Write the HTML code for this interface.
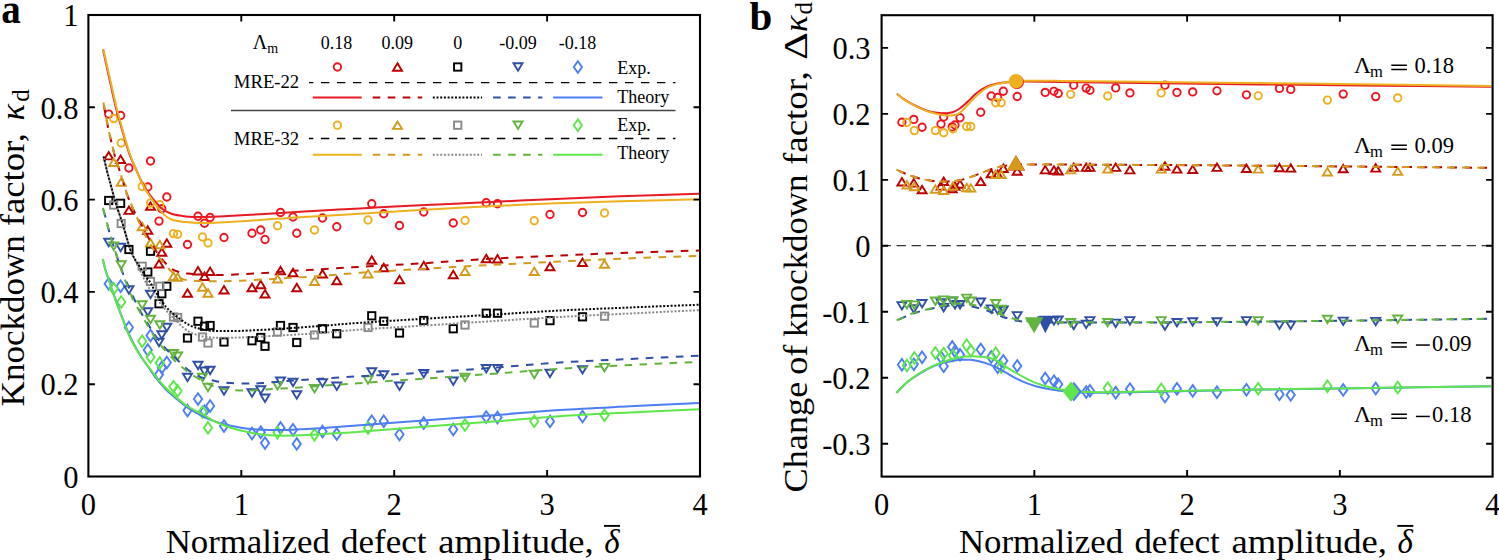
<!DOCTYPE html><html><head><meta charset="utf-8"><title>Knockdown factor</title><style>html,body{margin:0;padding:0;background:#fff;overflow:hidden;width:1499px;height:560px}svg{display:block}</style></head><body>
<svg width="1499" height="560" viewBox="0 0 1499 560" font-family="'Liberation Serif', serif">
<rect width="1499" height="560" fill="#fff"/>
<defs><clipPath id="ca"><rect x="89" y="16" width="610" height="460"/></clipPath><clipPath id="cb"><rect x="882.5" y="16" width="609.5" height="460"/></clipPath></defs>
<g clip-path="url(#ca)">
<circle cx="108.7" cy="114.1" r="3.7" fill="none" stroke="#ee1520" stroke-width="1.9"/>
<polygon points="108.7,152 113.2,159.4 104.2,159.4" fill="none" stroke="#bb0000" stroke-width="1.9" stroke-linejoin="miter"/>
<rect x="105.05" y="196.85" width="7.3" height="7.3" fill="none" stroke="#000000" stroke-width="1.9"/>
<polygon points="108.7,246.2 113.2,238.8 104.2,238.8" fill="none" stroke="#2f4fa6" stroke-width="1.9" stroke-linejoin="miter"/>
<polygon points="108.7,277.95 112.8,283.75 108.7,289.55 104.6,283.75" fill="none" stroke="#4d7ef3" stroke-width="1.9"/>
<circle cx="120.6" cy="115.5" r="3.7" fill="none" stroke="#ee1520" stroke-width="1.9"/>
<polygon points="120.6,155.6 125.1,163 116.1,163" fill="none" stroke="#bb0000" stroke-width="1.9" stroke-linejoin="miter"/>
<rect x="116.95" y="199.65" width="7.3" height="7.3" fill="none" stroke="#000000" stroke-width="1.9"/>
<polygon points="120.6,251.2 125.1,243.8 116.1,243.8" fill="none" stroke="#2f4fa6" stroke-width="1.9" stroke-linejoin="miter"/>
<polygon points="120.6,280.45 124.7,286.25 120.6,292.05 116.5,286.25" fill="none" stroke="#4d7ef3" stroke-width="1.9"/>
<circle cx="128.9" cy="168" r="3.7" fill="none" stroke="#ee1520" stroke-width="1.9"/>
<polygon points="128.9,206.5 133.4,213.9 124.4,213.9" fill="none" stroke="#bb0000" stroke-width="1.9" stroke-linejoin="miter"/>
<rect x="125.25" y="245.85" width="7.3" height="7.3" fill="none" stroke="#000000" stroke-width="1.9"/>
<polygon points="128.9,293.7 133.4,286.3 124.4,286.3" fill="none" stroke="#2f4fa6" stroke-width="1.9" stroke-linejoin="miter"/>
<polygon points="128.9,321.7 133,327.5 128.9,333.3 124.8,327.5" fill="none" stroke="#4d7ef3" stroke-width="1.9"/>
<circle cx="147.8" cy="187" r="3.7" fill="none" stroke="#ee1520" stroke-width="1.9"/>
<polygon points="147.8,226.4 152.3,233.8 143.3,233.8" fill="none" stroke="#bb0000" stroke-width="1.9" stroke-linejoin="miter"/>
<rect x="144.15" y="268.35" width="7.3" height="7.3" fill="none" stroke="#000000" stroke-width="1.9"/>
<polygon points="147.8,315.7 152.3,308.3 143.3,308.3" fill="none" stroke="#2f4fa6" stroke-width="1.9" stroke-linejoin="miter"/>
<polygon points="147.8,344.2 151.9,350 147.8,355.8 143.7,350" fill="none" stroke="#4d7ef3" stroke-width="1.9"/>
<circle cx="150.5" cy="161" r="3.7" fill="none" stroke="#ee1520" stroke-width="1.9"/>
<polygon points="150.5,202.4 155,209.8 146,209.8" fill="none" stroke="#bb0000" stroke-width="1.9" stroke-linejoin="miter"/>
<rect x="146.85" y="247.6" width="7.3" height="7.3" fill="none" stroke="#000000" stroke-width="1.9"/>
<polygon points="150.5,298.2 155,290.8 146,290.8" fill="none" stroke="#2f4fa6" stroke-width="1.9" stroke-linejoin="miter"/>
<polygon points="150.5,329.7 154.6,335.5 150.5,341.3 146.4,335.5" fill="none" stroke="#4d7ef3" stroke-width="1.9"/>
<circle cx="159" cy="221.1" r="3.7" fill="none" stroke="#ee1520" stroke-width="1.9"/>
<polygon points="159,260.05 163.5,267.45 154.5,267.45" fill="none" stroke="#bb0000" stroke-width="1.9" stroke-linejoin="miter"/>
<rect x="155.35" y="300.1" width="7.3" height="7.3" fill="none" stroke="#000000" stroke-width="1.9"/>
<polygon points="159,346.2 163.5,338.8 154.5,338.8" fill="none" stroke="#2f4fa6" stroke-width="1.9" stroke-linejoin="miter"/>
<polygon points="159,368.7 163.1,374.5 159,380.3 154.9,374.5" fill="none" stroke="#4d7ef3" stroke-width="1.9"/>
<circle cx="161.8" cy="208.75" r="3.7" fill="none" stroke="#ee1520" stroke-width="1.9"/>
<polygon points="161.8,248.3 166.3,255.7 157.3,255.7" fill="none" stroke="#bb0000" stroke-width="1.9" stroke-linejoin="miter"/>
<rect x="158.15" y="290.1" width="7.3" height="7.3" fill="none" stroke="#000000" stroke-width="1.9"/>
<polygon points="161.8,338.7 166.3,331.3 157.3,331.3" fill="none" stroke="#2f4fa6" stroke-width="1.9" stroke-linejoin="miter"/>
<polygon points="161.8,361.7 165.9,367.5 161.8,373.3 157.7,367.5" fill="none" stroke="#4d7ef3" stroke-width="1.9"/>
<circle cx="166.8" cy="197" r="3.7" fill="none" stroke="#ee1520" stroke-width="1.9"/>
<polygon points="166.8,239.3 171.3,246.7 162.3,246.7" fill="none" stroke="#bb0000" stroke-width="1.9" stroke-linejoin="miter"/>
<rect x="163.15" y="282.6" width="7.3" height="7.3" fill="none" stroke="#000000" stroke-width="1.9"/>
<polygon points="166.8,331.2 171.3,323.8 162.3,323.8" fill="none" stroke="#2f4fa6" stroke-width="1.9" stroke-linejoin="miter"/>
<polygon points="166.8,356.7 170.9,362.5 166.8,368.3 162.7,362.5" fill="none" stroke="#4d7ef3" stroke-width="1.9"/>
<circle cx="187.5" cy="244.5" r="3.7" fill="none" stroke="#ee1520" stroke-width="1.9"/>
<polygon points="187.5,289.3 192,296.7 183,296.7" fill="none" stroke="#bb0000" stroke-width="1.9" stroke-linejoin="miter"/>
<rect x="183.85" y="334.35" width="7.3" height="7.3" fill="none" stroke="#000000" stroke-width="1.9"/>
<polygon points="187.5,381.2 192,373.8 183,373.8" fill="none" stroke="#2f4fa6" stroke-width="1.9" stroke-linejoin="miter"/>
<polygon points="187.5,404.7 191.6,410.5 187.5,416.3 183.4,410.5" fill="none" stroke="#4d7ef3" stroke-width="1.9"/>
<circle cx="198" cy="216.25" r="3.7" fill="none" stroke="#ee1520" stroke-width="1.9"/>
<polygon points="198,267.05 202.5,274.45 193.5,274.45" fill="none" stroke="#bb0000" stroke-width="1.9" stroke-linejoin="miter"/>
<rect x="194.35" y="317.6" width="7.3" height="7.3" fill="none" stroke="#000000" stroke-width="1.9"/>
<polygon points="198,369.2 202.5,361.8 193.5,361.8" fill="none" stroke="#2f4fa6" stroke-width="1.9" stroke-linejoin="miter"/>
<polygon points="198,393.2 202.1,399 198,404.8 193.9,399" fill="none" stroke="#4d7ef3" stroke-width="1.9"/>
<circle cx="204.5" cy="223.25" r="3.7" fill="none" stroke="#ee1520" stroke-width="1.9"/>
<polygon points="204.5,272.55 209,279.95 200,279.95" fill="none" stroke="#bb0000" stroke-width="1.9" stroke-linejoin="miter"/>
<rect x="200.85" y="322.6" width="7.3" height="7.3" fill="none" stroke="#000000" stroke-width="1.9"/>
<polygon points="204.5,374.95 209,367.55 200,367.55" fill="none" stroke="#2f4fa6" stroke-width="1.9" stroke-linejoin="miter"/>
<polygon points="204.5,405.45 208.6,411.25 204.5,417.05 200.4,411.25" fill="none" stroke="#4d7ef3" stroke-width="1.9"/>
<circle cx="210.1" cy="217.5" r="3.7" fill="none" stroke="#ee1520" stroke-width="1.9"/>
<polygon points="210.1,267.55 214.6,274.95 205.6,274.95" fill="none" stroke="#bb0000" stroke-width="1.9" stroke-linejoin="miter"/>
<rect x="206.45" y="321.85" width="7.3" height="7.3" fill="none" stroke="#000000" stroke-width="1.9"/>
<polygon points="210.1,374.2 214.6,366.8 205.6,366.8" fill="none" stroke="#2f4fa6" stroke-width="1.9" stroke-linejoin="miter"/>
<polygon points="210.1,400.2 214.2,406 210.1,411.8 206,406" fill="none" stroke="#4d7ef3" stroke-width="1.9"/>
<circle cx="224" cy="237.5" r="3.7" fill="none" stroke="#ee1520" stroke-width="1.9"/>
<polygon points="224,286.05 228.5,293.45 219.5,293.45" fill="none" stroke="#bb0000" stroke-width="1.9" stroke-linejoin="miter"/>
<rect x="220.35" y="338.35" width="7.3" height="7.3" fill="none" stroke="#000000" stroke-width="1.9"/>
<polygon points="224,394.7 228.5,387.3 219.5,387.3" fill="none" stroke="#2f4fa6" stroke-width="1.9" stroke-linejoin="miter"/>
<polygon points="224,420.2 228.1,426 224,431.8 219.9,426" fill="none" stroke="#4d7ef3" stroke-width="1.9"/>
<circle cx="252" cy="233.25" r="3.7" fill="none" stroke="#ee1520" stroke-width="1.9"/>
<polygon points="252,283.8 256.5,291.2 247.5,291.2" fill="none" stroke="#bb0000" stroke-width="1.9" stroke-linejoin="miter"/>
<rect x="248.35" y="337.1" width="7.3" height="7.3" fill="none" stroke="#000000" stroke-width="1.9"/>
<polygon points="252,396.7 256.5,389.3 247.5,389.3" fill="none" stroke="#2f4fa6" stroke-width="1.9" stroke-linejoin="miter"/>
<polygon points="252,427.7 256.1,433.5 252,439.3 247.9,433.5" fill="none" stroke="#4d7ef3" stroke-width="1.9"/>
<circle cx="260.75" cy="230" r="3.7" fill="none" stroke="#ee1520" stroke-width="1.9"/>
<polygon points="260.75,280.8 265.25,288.2 256.25,288.2" fill="none" stroke="#bb0000" stroke-width="1.9" stroke-linejoin="miter"/>
<rect x="257.1" y="333.85" width="7.3" height="7.3" fill="none" stroke="#000000" stroke-width="1.9"/>
<polygon points="260.75,393.7 265.25,386.3 256.25,386.3" fill="none" stroke="#2f4fa6" stroke-width="1.9" stroke-linejoin="miter"/>
<polygon points="260.75,426.4 264.85,432.2 260.75,438 256.65,432.2" fill="none" stroke="#4d7ef3" stroke-width="1.9"/>
<circle cx="265" cy="239.5" r="3.7" fill="none" stroke="#ee1520" stroke-width="1.9"/>
<polygon points="265,290.05 269.5,297.45 260.5,297.45" fill="none" stroke="#bb0000" stroke-width="1.9" stroke-linejoin="miter"/>
<rect x="261.35" y="342.6" width="7.3" height="7.3" fill="none" stroke="#000000" stroke-width="1.9"/>
<polygon points="265,401.95 269.5,394.55 260.5,394.55" fill="none" stroke="#2f4fa6" stroke-width="1.9" stroke-linejoin="miter"/>
<polygon points="265,437.3 269.1,443.1 265,448.9 260.9,443.1" fill="none" stroke="#4d7ef3" stroke-width="1.9"/>
<circle cx="280.5" cy="212.5" r="3.7" fill="none" stroke="#ee1520" stroke-width="1.9"/>
<polygon points="280.5,266.8 285,274.2 276,274.2" fill="none" stroke="#bb0000" stroke-width="1.9" stroke-linejoin="miter"/>
<rect x="276.85" y="321.85" width="7.3" height="7.3" fill="none" stroke="#000000" stroke-width="1.9"/>
<polygon points="280.5,384.95 285,377.55 276,377.55" fill="none" stroke="#2f4fa6" stroke-width="1.9" stroke-linejoin="miter"/>
<polygon points="280.5,422.1 284.6,427.9 280.5,433.7 276.4,427.9" fill="none" stroke="#4d7ef3" stroke-width="1.9"/>
<circle cx="293" cy="217" r="3.7" fill="none" stroke="#ee1520" stroke-width="1.9"/>
<polygon points="293,268.8 297.5,276.2 288.5,276.2" fill="none" stroke="#bb0000" stroke-width="1.9" stroke-linejoin="miter"/>
<rect x="289.35" y="323.85" width="7.3" height="7.3" fill="none" stroke="#000000" stroke-width="1.9"/>
<polygon points="293,386.2 297.5,378.8 288.5,378.8" fill="none" stroke="#2f4fa6" stroke-width="1.9" stroke-linejoin="miter"/>
<polygon points="293,424 297.1,429.8 293,435.6 288.9,429.8" fill="none" stroke="#4d7ef3" stroke-width="1.9"/>
<circle cx="296.75" cy="233.25" r="3.7" fill="none" stroke="#ee1520" stroke-width="1.9"/>
<polygon points="296.75,283.8 301.25,291.2 292.25,291.2" fill="none" stroke="#bb0000" stroke-width="1.9" stroke-linejoin="miter"/>
<rect x="293.1" y="338.85" width="7.3" height="7.3" fill="none" stroke="#000000" stroke-width="1.9"/>
<polygon points="296.75,398.7 301.25,391.3 292.25,391.3" fill="none" stroke="#2f4fa6" stroke-width="1.9" stroke-linejoin="miter"/>
<polygon points="296.75,438.1 300.85,443.9 296.75,449.7 292.65,443.9" fill="none" stroke="#4d7ef3" stroke-width="1.9"/>
<circle cx="322.5" cy="218" r="3.7" fill="none" stroke="#ee1520" stroke-width="1.9"/>
<polygon points="322.5,270.05 327,277.45 318,277.45" fill="none" stroke="#bb0000" stroke-width="1.9" stroke-linejoin="miter"/>
<rect x="318.85" y="325.1" width="7.3" height="7.3" fill="none" stroke="#000000" stroke-width="1.9"/>
<polygon points="322.5,386.7 327,379.3 318,379.3" fill="none" stroke="#2f4fa6" stroke-width="1.9" stroke-linejoin="miter"/>
<polygon points="322.5,425.7 326.6,431.5 322.5,437.3 318.4,431.5" fill="none" stroke="#4d7ef3" stroke-width="1.9"/>
<circle cx="336.75" cy="226.75" r="3.7" fill="none" stroke="#ee1520" stroke-width="1.9"/>
<polygon points="336.75,276.8 341.25,284.2 332.25,284.2" fill="none" stroke="#bb0000" stroke-width="1.9" stroke-linejoin="miter"/>
<rect x="333.1" y="330.1" width="7.3" height="7.3" fill="none" stroke="#000000" stroke-width="1.9"/>
<polygon points="336.75,389.95 341.25,382.55 332.25,382.55" fill="none" stroke="#2f4fa6" stroke-width="1.9" stroke-linejoin="miter"/>
<polygon points="336.75,428.2 340.85,434 336.75,439.8 332.65,434" fill="none" stroke="#4d7ef3" stroke-width="1.9"/>
<circle cx="371.75" cy="203.75" r="3.7" fill="none" stroke="#ee1520" stroke-width="1.9"/>
<polygon points="371.75,256.3 376.25,263.7 367.25,263.7" fill="none" stroke="#bb0000" stroke-width="1.9" stroke-linejoin="miter"/>
<rect x="368.1" y="312.15" width="7.3" height="7.3" fill="none" stroke="#000000" stroke-width="1.9"/>
<polygon points="371.75,375.7 376.25,368.3 367.25,368.3" fill="none" stroke="#2f4fa6" stroke-width="1.9" stroke-linejoin="miter"/>
<polygon points="371.75,415.45 375.85,421.25 371.75,427.05 367.65,421.25" fill="none" stroke="#4d7ef3" stroke-width="1.9"/>
<circle cx="383.75" cy="213.75" r="3.7" fill="none" stroke="#ee1520" stroke-width="1.9"/>
<polygon points="383.75,263.8 388.25,271.2 379.25,271.2" fill="none" stroke="#bb0000" stroke-width="1.9" stroke-linejoin="miter"/>
<rect x="380.1" y="317.6" width="7.3" height="7.3" fill="none" stroke="#000000" stroke-width="1.9"/>
<polygon points="383.75,378.7 388.25,371.3 379.25,371.3" fill="none" stroke="#2f4fa6" stroke-width="1.9" stroke-linejoin="miter"/>
<polygon points="383.75,415.45 387.85,421.25 383.75,427.05 379.65,421.25" fill="none" stroke="#4d7ef3" stroke-width="1.9"/>
<circle cx="399.5" cy="225.5" r="3.7" fill="none" stroke="#ee1520" stroke-width="1.9"/>
<polygon points="399.5,275.8 404,283.2 395,283.2" fill="none" stroke="#bb0000" stroke-width="1.9" stroke-linejoin="miter"/>
<rect x="395.85" y="329.35" width="7.3" height="7.3" fill="none" stroke="#000000" stroke-width="1.9"/>
<polygon points="399.5,389.95 404,382.55 395,382.55" fill="none" stroke="#2f4fa6" stroke-width="1.9" stroke-linejoin="miter"/>
<polygon points="399.5,428.7 403.6,434.5 399.5,440.3 395.4,434.5" fill="none" stroke="#4d7ef3" stroke-width="1.9"/>
<circle cx="423.75" cy="212" r="3.7" fill="none" stroke="#ee1520" stroke-width="1.9"/>
<polygon points="423.75,261.8 428.25,269.2 419.25,269.2" fill="none" stroke="#bb0000" stroke-width="1.9" stroke-linejoin="miter"/>
<rect x="420.1" y="316.85" width="7.3" height="7.3" fill="none" stroke="#000000" stroke-width="1.9"/>
<polygon points="423.75,377.45 428.25,370.05 419.25,370.05" fill="none" stroke="#2f4fa6" stroke-width="1.9" stroke-linejoin="miter"/>
<polygon points="423.75,417.2 427.85,423 423.75,428.8 419.65,423" fill="none" stroke="#4d7ef3" stroke-width="1.9"/>
<circle cx="453.25" cy="223" r="3.7" fill="none" stroke="#ee1520" stroke-width="1.9"/>
<polygon points="453.25,270.8 457.75,278.2 448.75,278.2" fill="none" stroke="#bb0000" stroke-width="1.9" stroke-linejoin="miter"/>
<rect x="449.6" y="325.1" width="7.3" height="7.3" fill="none" stroke="#000000" stroke-width="1.9"/>
<polygon points="453.25,384.95 457.75,377.55 448.75,377.55" fill="none" stroke="#2f4fa6" stroke-width="1.9" stroke-linejoin="miter"/>
<polygon points="453.25,423.7 457.35,429.5 453.25,435.3 449.15,429.5" fill="none" stroke="#4d7ef3" stroke-width="1.9"/>
<circle cx="486.25" cy="202.75" r="3.7" fill="none" stroke="#ee1520" stroke-width="1.9"/>
<polygon points="486.25,254.8 490.75,262.2 481.75,262.2" fill="none" stroke="#bb0000" stroke-width="1.9" stroke-linejoin="miter"/>
<rect x="482.6" y="309.55" width="7.3" height="7.3" fill="none" stroke="#000000" stroke-width="1.9"/>
<polygon points="486.25,372.45 490.75,365.05 481.75,365.05" fill="none" stroke="#2f4fa6" stroke-width="1.9" stroke-linejoin="miter"/>
<polygon points="486.25,411.2 490.35,417 486.25,422.8 482.15,417" fill="none" stroke="#4d7ef3" stroke-width="1.9"/>
<circle cx="497.5" cy="203.75" r="3.7" fill="none" stroke="#ee1520" stroke-width="1.9"/>
<polygon points="497.5,255.05 502,262.45 493,262.45" fill="none" stroke="#bb0000" stroke-width="1.9" stroke-linejoin="miter"/>
<rect x="493.85" y="309.55" width="7.3" height="7.3" fill="none" stroke="#000000" stroke-width="1.9"/>
<polygon points="497.5,372.45 502,365.05 493,365.05" fill="none" stroke="#2f4fa6" stroke-width="1.9" stroke-linejoin="miter"/>
<polygon points="497.5,411.7 501.6,417.5 497.5,423.3 493.4,417.5" fill="none" stroke="#4d7ef3" stroke-width="1.9"/>
<circle cx="550" cy="214.5" r="3.7" fill="none" stroke="#ee1520" stroke-width="1.9"/>
<polygon points="550,262.9 554.5,270.3 545.5,270.3" fill="none" stroke="#bb0000" stroke-width="1.9" stroke-linejoin="miter"/>
<rect x="546.35" y="316.95" width="7.3" height="7.3" fill="none" stroke="#000000" stroke-width="1.9"/>
<polygon points="550,377.1 554.5,369.7 545.5,369.7" fill="none" stroke="#2f4fa6" stroke-width="1.9" stroke-linejoin="miter"/>
<polygon points="550,415.6 554.1,421.4 550,427.2 545.9,421.4" fill="none" stroke="#4d7ef3" stroke-width="1.9"/>
<circle cx="582.5" cy="212.5" r="3.7" fill="none" stroke="#ee1520" stroke-width="1.9"/>
<polygon points="582.5,258.6 587,266 578,266" fill="none" stroke="#bb0000" stroke-width="1.9" stroke-linejoin="miter"/>
<rect x="578.85" y="313.15" width="7.3" height="7.3" fill="none" stroke="#000000" stroke-width="1.9"/>
<polygon points="582.5,373.5 587,366.1 578,366.1" fill="none" stroke="#2f4fa6" stroke-width="1.9" stroke-linejoin="miter"/>
<polygon points="582.5,410.8 586.6,416.6 582.5,422.4 578.4,416.6" fill="none" stroke="#4d7ef3" stroke-width="1.9"/>
<circle cx="113.7" cy="118.6" r="3.7" fill="none" stroke="#edb120" stroke-width="1.9"/>
<polygon points="113.7,158.6 118.2,166 109.2,166" fill="none" stroke="#d39a1c" stroke-width="1.9" stroke-linejoin="miter"/>
<rect x="110.05" y="201.35" width="7.3" height="7.3" fill="none" stroke="#8a8a8a" stroke-width="1.9"/>
<polygon points="113.7,249.95 118.2,242.55 109.2,242.55" fill="none" stroke="#62b43e" stroke-width="1.9" stroke-linejoin="miter"/>
<polygon points="113.7,282.95 117.8,288.75 113.7,294.55 109.6,288.75" fill="none" stroke="#5ee64a" stroke-width="1.9"/>
<circle cx="121.2" cy="143" r="3.7" fill="none" stroke="#edb120" stroke-width="1.9"/>
<polygon points="121.2,178.3 125.7,185.7 116.7,185.7" fill="none" stroke="#d39a1c" stroke-width="1.9" stroke-linejoin="miter"/>
<rect x="117.55" y="219.85" width="7.3" height="7.3" fill="none" stroke="#8a8a8a" stroke-width="1.9"/>
<polygon points="121.2,268.7 125.7,261.3 116.7,261.3" fill="none" stroke="#62b43e" stroke-width="1.9" stroke-linejoin="miter"/>
<polygon points="121.2,296.2 125.3,302 121.2,307.8 117.1,302" fill="none" stroke="#5ee64a" stroke-width="1.9"/>
<circle cx="142.2" cy="186.5" r="3.7" fill="none" stroke="#edb120" stroke-width="1.9"/>
<polygon points="142.2,222.8 146.7,230.2 137.7,230.2" fill="none" stroke="#d39a1c" stroke-width="1.9" stroke-linejoin="miter"/>
<rect x="138.55" y="262.6" width="7.3" height="7.3" fill="none" stroke="#8a8a8a" stroke-width="1.9"/>
<polygon points="142.2,308.7 146.7,301.3 137.7,301.3" fill="none" stroke="#62b43e" stroke-width="1.9" stroke-linejoin="miter"/>
<polygon points="142.2,335.45 146.3,341.25 142.2,347.05 138.1,341.25" fill="none" stroke="#5ee64a" stroke-width="1.9"/>
<circle cx="150.5" cy="203.1" r="3.7" fill="none" stroke="#edb120" stroke-width="1.9"/>
<polygon points="150.5,239 155,246.4 146,246.4" fill="none" stroke="#d39a1c" stroke-width="1.9" stroke-linejoin="miter"/>
<rect x="146.85" y="277.85" width="7.3" height="7.3" fill="none" stroke="#8a8a8a" stroke-width="1.9"/>
<polygon points="150.5,323.2 155,315.8 146,315.8" fill="none" stroke="#62b43e" stroke-width="1.9" stroke-linejoin="miter"/>
<polygon points="150.5,351.2 154.6,357 150.5,362.8 146.4,357" fill="none" stroke="#5ee64a" stroke-width="1.9"/>
<circle cx="159.8" cy="204.7" r="3.7" fill="none" stroke="#edb120" stroke-width="1.9"/>
<polygon points="159.8,240.8 164.3,248.2 155.3,248.2" fill="none" stroke="#d39a1c" stroke-width="1.9" stroke-linejoin="miter"/>
<rect x="156.15" y="282.6" width="7.3" height="7.3" fill="none" stroke="#8a8a8a" stroke-width="1.9"/>
<polygon points="159.8,328.7 164.3,321.3 155.3,321.3" fill="none" stroke="#62b43e" stroke-width="1.9" stroke-linejoin="miter"/>
<polygon points="159.8,357.2 163.9,363 159.8,368.8 155.7,363" fill="none" stroke="#5ee64a" stroke-width="1.9"/>
<circle cx="173.5" cy="233.6" r="3.7" fill="none" stroke="#edb120" stroke-width="1.9"/>
<polygon points="173.5,272.55 178,279.95 169,279.95" fill="none" stroke="#d39a1c" stroke-width="1.9" stroke-linejoin="miter"/>
<rect x="169.85" y="313.35" width="7.3" height="7.3" fill="none" stroke="#8a8a8a" stroke-width="1.9"/>
<polygon points="173.5,357.45 178,350.05 169,350.05" fill="none" stroke="#62b43e" stroke-width="1.9" stroke-linejoin="miter"/>
<polygon points="173.5,380.8 177.6,386.6 173.5,392.4 169.4,386.6" fill="none" stroke="#5ee64a" stroke-width="1.9"/>
<circle cx="177.6" cy="234.3" r="3.7" fill="none" stroke="#edb120" stroke-width="1.9"/>
<polygon points="177.6,273.3 182.1,280.7 173.1,280.7" fill="none" stroke="#d39a1c" stroke-width="1.9" stroke-linejoin="miter"/>
<rect x="173.95" y="313.85" width="7.3" height="7.3" fill="none" stroke="#8a8a8a" stroke-width="1.9"/>
<polygon points="177.6,359.95 182.1,352.55 173.1,352.55" fill="none" stroke="#62b43e" stroke-width="1.9" stroke-linejoin="miter"/>
<polygon points="177.6,385 181.7,390.8 177.6,396.6 173.5,390.8" fill="none" stroke="#5ee64a" stroke-width="1.9"/>
<circle cx="202.5" cy="237" r="3.7" fill="none" stroke="#edb120" stroke-width="1.9"/>
<polygon points="202.5,283.3 207,290.7 198,290.7" fill="none" stroke="#d39a1c" stroke-width="1.9" stroke-linejoin="miter"/>
<rect x="198.85" y="333.35" width="7.3" height="7.3" fill="none" stroke="#8a8a8a" stroke-width="1.9"/>
<polygon points="202.5,381.2 207,373.8 198,373.8" fill="none" stroke="#62b43e" stroke-width="1.9" stroke-linejoin="miter"/>
<polygon points="202.5,406.3 206.6,412.1 202.5,417.9 198.4,412.1" fill="none" stroke="#5ee64a" stroke-width="1.9"/>
<circle cx="208" cy="243" r="3.7" fill="none" stroke="#edb120" stroke-width="1.9"/>
<polygon points="208,289.3 212.5,296.7 203.5,296.7" fill="none" stroke="#d39a1c" stroke-width="1.9" stroke-linejoin="miter"/>
<rect x="204.35" y="339.35" width="7.3" height="7.3" fill="none" stroke="#8a8a8a" stroke-width="1.9"/>
<polygon points="208,391.2 212.5,383.8 203.5,383.8" fill="none" stroke="#62b43e" stroke-width="1.9" stroke-linejoin="miter"/>
<polygon points="208,422 212.1,427.8 208,433.6 203.9,427.8" fill="none" stroke="#5ee64a" stroke-width="1.9"/>
<circle cx="277.5" cy="225.75" r="3.7" fill="none" stroke="#edb120" stroke-width="1.9"/>
<polygon points="277.5,275.05 282,282.45 273,282.45" fill="none" stroke="#d39a1c" stroke-width="1.9" stroke-linejoin="miter"/>
<rect x="273.85" y="328.35" width="7.3" height="7.3" fill="none" stroke="#8a8a8a" stroke-width="1.9"/>
<polygon points="277.5,389.45 282,382.05 273,382.05" fill="none" stroke="#62b43e" stroke-width="1.9" stroke-linejoin="miter"/>
<polygon points="277.5,426.8 281.6,432.6 277.5,438.4 273.4,432.6" fill="none" stroke="#5ee64a" stroke-width="1.9"/>
<circle cx="314.5" cy="230" r="3.7" fill="none" stroke="#edb120" stroke-width="1.9"/>
<polygon points="314.5,277.55 319,284.95 310,284.95" fill="none" stroke="#d39a1c" stroke-width="1.9" stroke-linejoin="miter"/>
<rect x="310.85" y="331.35" width="7.3" height="7.3" fill="none" stroke="#8a8a8a" stroke-width="1.9"/>
<polygon points="314.5,392.45 319,385.05 310,385.05" fill="none" stroke="#62b43e" stroke-width="1.9" stroke-linejoin="miter"/>
<polygon points="314.5,428.9 318.6,434.7 314.5,440.5 310.4,434.7" fill="none" stroke="#5ee64a" stroke-width="1.9"/>
<circle cx="368" cy="220" r="3.7" fill="none" stroke="#edb120" stroke-width="1.9"/>
<polygon points="368,270.05 372.5,277.45 363.5,277.45" fill="none" stroke="#d39a1c" stroke-width="1.9" stroke-linejoin="miter"/>
<rect x="364.35" y="323.85" width="7.3" height="7.3" fill="none" stroke="#8a8a8a" stroke-width="1.9"/>
<polygon points="368,383.7 372.5,376.3 363.5,376.3" fill="none" stroke="#62b43e" stroke-width="1.9" stroke-linejoin="miter"/>
<polygon points="368,422.2 372.1,428 368,433.8 363.9,428" fill="none" stroke="#5ee64a" stroke-width="1.9"/>
<circle cx="465" cy="220.5" r="3.7" fill="none" stroke="#edb120" stroke-width="1.9"/>
<polygon points="465,267.55 469.5,274.95 460.5,274.95" fill="none" stroke="#d39a1c" stroke-width="1.9" stroke-linejoin="miter"/>
<rect x="461.35" y="321.35" width="7.3" height="7.3" fill="none" stroke="#8a8a8a" stroke-width="1.9"/>
<polygon points="465,381.2 469.5,373.8 460.5,373.8" fill="none" stroke="#62b43e" stroke-width="1.9" stroke-linejoin="miter"/>
<polygon points="465,419.2 469.1,425 465,430.8 460.9,425" fill="none" stroke="#5ee64a" stroke-width="1.9"/>
<circle cx="534.25" cy="220.75" r="3.7" fill="none" stroke="#edb120" stroke-width="1.9"/>
<polygon points="534.25,267.55 538.75,274.95 529.75,274.95" fill="none" stroke="#d39a1c" stroke-width="1.9" stroke-linejoin="miter"/>
<rect x="530.6" y="319.35" width="7.3" height="7.3" fill="none" stroke="#8a8a8a" stroke-width="1.9"/>
<polygon points="534.25,378.2 538.75,370.8 529.75,370.8" fill="none" stroke="#62b43e" stroke-width="1.9" stroke-linejoin="miter"/>
<polygon points="534.25,415.45 538.35,421.25 534.25,427.05 530.15,421.25" fill="none" stroke="#5ee64a" stroke-width="1.9"/>
<circle cx="604.5" cy="213" r="3.7" fill="none" stroke="#edb120" stroke-width="1.9"/>
<polygon points="604.5,260.3 609,267.7 600,267.7" fill="none" stroke="#d39a1c" stroke-width="1.9" stroke-linejoin="miter"/>
<rect x="600.85" y="312.55" width="7.3" height="7.3" fill="none" stroke="#8a8a8a" stroke-width="1.9"/>
<polygon points="604.5,371.3 609,363.9 600,363.9" fill="none" stroke="#62b43e" stroke-width="1.9" stroke-linejoin="miter"/>
<polygon points="604.5,409.5 608.6,415.3 604.5,421.1 600.4,415.3" fill="none" stroke="#5ee64a" stroke-width="1.9"/>
<path d="M103.6,156.4 C104.17,158.83 105.78,166.17 107,171 C108.22,175.83 109.45,180.07 110.9,185.4 C112.35,190.73 113.83,196.85 115.7,203 C117.57,209.15 120.23,216.4 122.1,222.3 C123.97,228.2 125.52,233.78 126.9,238.4 C128.28,243.02 129.05,246.4 130.4,250 C131.75,253.6 133.4,256.58 135,260 C136.6,263.42 138.1,266.57 140,270.5 C141.9,274.43 144.4,279.93 146.4,283.6 C148.4,287.27 149.9,289.52 152,292.5 C154.1,295.48 156.5,298.33 159,301.5 C161.5,304.67 164.33,308.5 167,311.5 C169.67,314.5 172.5,317 175,319.5 C177.5,322 179.62,324.45 182,326.5 C184.38,328.55 186.63,330.33 189.3,331.8 C191.97,333.27 195.03,334.42 198,335.3 C200.97,336.18 203.43,336.68 207.1,337.1 C210.77,337.52 214.52,337.73 220,337.8 C225.48,337.87 230,337.88 240,337.5 C250,337.12 266.67,336.25 280,335.5 C293.33,334.75 306.67,333.98 320,333 C333.33,332.02 343.33,330.8 360,329.6 C376.67,328.4 398.33,327.18 420,325.8 C441.67,324.42 466.67,322.77 490,321.3 C513.33,319.83 536.67,318.3 560,317 C583.33,315.7 606.67,314.65 630,313.5 C653.33,312.35 688.33,310.67 700,310.1" fill="none" stroke="#8a8a8a" stroke-width="2.0" stroke-dasharray="2 1.7" stroke-dashoffset="1.8"/>
<path d="M103.6,156.4 C104.17,158.83 105.78,166.17 107,171 C108.22,175.83 109.45,180.07 110.9,185.4 C112.35,190.73 113.83,196.85 115.7,203 C117.57,209.15 120.23,216.4 122.1,222.3 C123.97,228.2 125.52,233.78 126.9,238.4 C128.28,243.02 129.05,246.48 130.4,250 C131.75,253.52 133.52,256.83 135,259.5 C136.48,262.17 137.63,263.33 139.3,266 C140.97,268.67 143.22,272.82 145,275.5 C146.78,278.18 148.57,279.93 150,282.1 C151.43,284.27 152.12,286.02 153.6,288.5 C155.08,290.98 156.83,293.95 158.9,297 C160.97,300.05 163.65,304 166,306.8 C168.35,309.6 170.6,311.72 173,313.8 C175.4,315.88 178.07,317.63 180.4,319.3 C182.73,320.97 184.63,322.47 187,323.8 C189.37,325.13 191.77,326.33 194.6,327.3 C197.43,328.27 200.72,329 204,329.6 C207.28,330.2 208.3,330.68 214.3,330.9 C220.3,331.12 229.05,331.25 240,330.9 C250.95,330.55 266.67,329.62 280,328.8 C293.33,327.98 306.67,327 320,326 C333.33,325 343.33,323.97 360,322.8 C376.67,321.63 398.33,320.33 420,319 C441.67,317.67 466.67,316.22 490,314.8 C513.33,313.38 536.67,311.72 560,310.5 C583.33,309.28 606.67,308.47 630,307.5 C653.33,306.53 688.33,305.17 700,304.7" fill="none" stroke="#000000" stroke-width="2.0" stroke-dasharray="2 1.7"/>
<path d="M102.8,207.9 C103.2,209.25 104.25,212.52 105.2,216 C106.15,219.48 107.37,224.63 108.5,228.8 C109.63,232.97 110.75,236.87 112,241 C113.25,245.13 114.43,248.87 116,253.6 C117.57,258.33 119.57,264.5 121.4,269.4 C123.23,274.3 124.92,278.17 127,283 C129.08,287.83 131.57,293.48 133.9,298.4 C136.23,303.32 138.62,308.17 141,312.5 C143.38,316.83 145.87,320.65 148.2,324.4 C150.53,328.15 152.82,331.82 155,335 C157.18,338.18 159.08,340.83 161.25,343.5 C163.42,346.17 165.71,348.67 168,351 C170.29,353.33 171.75,354.42 175,357.5 C178.25,360.58 183.33,366.28 187.5,369.5 C191.67,372.72 195.42,374.88 200,376.8 C204.58,378.72 209.79,379.95 215,381 C220.21,382.05 225.42,382.68 231.25,383.1 C237.08,383.52 244.79,383.5 250,383.5 C255.21,383.5 254.17,383.68 262.5,383.1 C270.83,382.52 283.75,381.14 300,380 C316.25,378.86 340,377.45 360,376.25 C380,375.05 398.33,374.18 420,372.8 C441.67,371.43 466.67,369.72 490,368 C513.33,366.28 536.67,364 560,362.5 C583.33,361 606.67,360.15 630,359 C653.33,357.85 688.33,356.17 700,355.6" fill="none" stroke="#2f4fa6" stroke-width="2.0" stroke-dasharray="7.6 7.4" stroke-dashoffset="-2.5"/>
<path d="M102.8,207.9 C103.2,209.25 104.25,212.52 105.2,216 C106.15,219.48 107.37,224.63 108.5,228.8 C109.63,232.97 110.75,236.87 112,241 C113.25,245.13 114.43,248.7 116,253.6 C117.57,258.5 119.57,265.17 121.4,270.4 C123.23,275.63 125.07,280.15 127,285 C128.93,289.85 130.67,294.67 133,299.5 C135.33,304.33 138.5,309.58 141,314 C143.5,318.42 145.9,322.43 148,326 C150.1,329.57 151.6,332.32 153.6,335.4 C155.6,338.48 157.62,341.53 160,344.5 C162.38,347.47 165.4,350.45 167.9,353.2 C170.4,355.95 172.57,358.62 175,361 C177.43,363.38 180,365.42 182.5,367.5 C185,369.58 187.08,371.5 190,373.5 C192.92,375.5 196.25,377.45 200,379.5 C203.75,381.55 208.33,384.18 212.5,385.8 C216.67,387.42 220.42,388.42 225,389.2 C229.58,389.98 234.79,390.33 240,390.5 C245.21,390.67 250.42,390.47 256.25,390.2 C262.08,389.93 267.71,389.37 275,388.9 C282.29,388.43 287.5,388.26 300,387.4 C312.5,386.54 330,385.15 350,383.75 C370,382.35 396.67,380.62 420,379 C443.33,377.38 466.67,375.71 490,374 C513.33,372.29 536.67,370.25 560,368.75 C583.33,367.25 606.67,366.16 630,365 C653.33,363.84 688.33,362.33 700,361.8" fill="none" stroke="#62b43e" stroke-width="2.0" stroke-dasharray="7.6 7.4"/>
<path d="M102.7,259 C103.17,260.83 104.47,266.43 105.5,270 C106.53,273.57 107.82,277.15 108.9,280.4 C109.98,283.65 110.82,286.13 112,289.5 C113.18,292.87 114.5,296.43 116,300.6 C117.5,304.77 119.2,309.77 121,314.5 C122.8,319.23 124.8,324.33 126.8,329 C128.8,333.67 130.63,337.92 133,342.5 C135.37,347.08 138.5,352.5 141,356.5 C143.5,360.5 145.43,362.83 148,366.5 C150.57,370.17 153.57,374.83 156.4,378.5 C159.23,382.17 161.9,385.33 165,388.5 C168.1,391.67 171.33,394.38 175,397.5 C178.67,400.62 182.83,404.32 187,407.2 C191.17,410.08 195.83,412.6 200,414.8 C204.17,417 207.75,418.78 212,420.4 C216.25,422.02 219.77,423.13 225.5,424.5 C231.23,425.87 238.9,427.68 246.4,428.6 C253.9,429.52 262.47,429.83 270.5,430 C278.53,430.17 286.35,429.88 294.6,429.6 C302.85,429.32 309.1,429.02 320,428.3 C330.9,427.58 343.33,426.57 360,425.3 C376.67,424.03 398.33,422.33 420,420.7 C441.67,419.07 466.67,417.28 490,415.5 C513.33,413.72 536.67,411.53 560,410 C583.33,408.47 606.67,407.47 630,406.3 C653.33,405.13 688.33,403.55 700,403" fill="none" stroke="#4d7ef3" stroke-width="2.0" />
<path d="M102.7,259 C103.17,260.83 104.47,266.43 105.5,270 C106.53,273.57 107.82,277.15 108.9,280.4 C109.98,283.65 110.82,286 112,289.5 C113.18,293 114.5,297.15 116,301.4 C117.5,305.65 119.2,310.23 121,315 C122.8,319.77 124.8,325.25 126.8,330 C128.8,334.75 130.63,339.03 133,343.5 C135.37,347.97 138.17,352.59 141,356.8 C143.83,361.01 147.17,365.02 150,368.75 C152.83,372.48 155.5,376.12 158,379.2 C160.5,382.27 162.17,384.36 165,387.2 C167.83,390.04 171.25,393.07 175,396.25 C178.75,399.43 182.83,403.21 187.5,406.25 C192.17,409.29 198.42,411.96 203,414.5 C207.58,417.04 210.5,419.33 215,421.5 C219.5,423.67 224.77,425.78 230,427.5 C235.23,429.22 241.07,430.63 246.4,431.8 C251.73,432.97 256.65,433.87 262,434.5 C267.35,435.13 273,435.45 278.5,435.6 C284,435.75 289.63,435.53 295,435.4 C300.37,435.27 299.87,435.4 310.7,434.8 C321.53,434.2 341.78,433.1 360,431.8 C378.22,430.5 398.33,428.67 420,427 C441.67,425.33 466.67,423.59 490,421.8 C513.33,420.01 536.67,417.8 560,416.25 C583.33,414.7 606.67,413.69 630,412.5 C653.33,411.31 688.33,409.67 700,409.1" fill="none" stroke="#5ee64a" stroke-width="2.0" />
<path d="M103.4,103 C104.17,107.02 106.67,120.62 108,127.1 C109.33,133.58 110.28,137.2 111.4,141.9 C112.52,146.6 113.37,150.62 114.7,155.3 C116.03,159.98 117.38,163.62 119.4,170 C121.42,176.38 124.53,187.1 126.8,193.6 C129.07,200.1 130.8,204.27 133,209 C135.2,213.73 137.77,217.85 140,222 C142.23,226.15 144.32,230.07 146.4,233.9 C148.48,237.73 150.42,241.42 152.5,245 C154.58,248.58 156.82,252.48 158.9,255.4 C160.98,258.32 162.92,260.27 165,262.5 C167.08,264.73 168.9,267.12 171.4,268.75 C173.9,270.38 177.32,271.49 180,272.3 C182.68,273.11 184.17,273.22 187.5,273.6 C190.83,273.98 194.58,274.37 200,274.6 C205.42,274.83 210,275.23 220,275 C230,274.77 246.67,273.95 260,273.2 C273.33,272.45 283.33,271.57 300,270.5 C316.67,269.43 340,267.97 360,266.8 C380,265.63 398.33,264.84 420,263.5 C441.67,262.16 468.33,260 490,258.75 C511.67,257.5 528.33,256.96 550,256 C571.67,255.04 595,253.92 620,253 C645,252.08 686.67,250.92 700,250.5" fill="none" stroke="#bb0000" stroke-width="2.0" stroke-dasharray="7.6 7.4" stroke-dashoffset="-2.5"/>
<path d="M103.4,102.5 C104.17,106.6 106.67,120.53 108,127.1 C109.33,133.67 110.28,137.2 111.4,141.9 C112.52,146.6 113.37,150.62 114.7,155.3 C116.03,159.98 117.38,163.62 119.4,170 C121.42,176.38 124.7,187.6 126.8,193.6 C128.9,199.6 130.22,201.81 132,206 C133.78,210.19 135.5,214.25 137.5,218.75 C139.5,223.25 141.92,228.88 144,233 C146.08,237.12 148,240.08 150,243.5 C152,246.92 153.92,250.5 156,253.5 C158.08,256.5 160.5,259.08 162.5,261.5 C164.5,263.92 165.92,265.75 168,268 C170.08,270.25 172.67,273.2 175,275 C177.33,276.8 179.62,277.9 182,278.8 C184.38,279.7 185.12,279.99 189.3,280.4 C193.48,280.81 198.65,281.2 207.1,281.25 C215.55,281.3 227.85,281.16 240,280.7 C252.15,280.24 266.67,279.28 280,278.5 C293.33,277.72 306.67,276.95 320,276 C333.33,275.05 343.33,273.97 360,272.8 C376.67,271.63 398.33,270.3 420,269 C441.67,267.7 468.33,266.17 490,265 C511.67,263.83 528.33,263.04 550,262 C571.67,260.96 595,259.79 620,258.75 C645,257.71 686.67,256.25 700,255.75" fill="none" stroke="#d39a1c" stroke-width="2.0" stroke-dasharray="7.6 7.4"/>
<path d="M103,49.5 C104,54.08 106.92,67.58 109,77 C111.08,86.42 113.6,98.17 115.5,106 C117.4,113.83 118.93,118.75 120.4,124 C121.87,129.25 122.72,132.25 124.3,137.5 C125.88,142.75 128,150.33 129.9,155.5 C131.8,160.67 134.02,164.67 135.7,168.5 C137.38,172.33 138.52,175.42 140,178.5 C141.48,181.58 142.93,184.25 144.6,187 C146.27,189.75 148.1,192.42 150,195 C151.9,197.58 153.92,200.17 156,202.5 C158.08,204.83 159.93,207.12 162.5,209 C165.07,210.88 167.53,212.57 171.4,213.8 C175.27,215.03 180.93,215.85 185.7,216.4 C190.47,216.95 194.28,217.1 200,217.1 C205.72,217.1 210,216.88 220,216.4 C230,215.92 246.67,214.97 260,214.2 C273.33,213.43 283.33,212.77 300,211.8 C316.67,210.83 340,209.48 360,208.4 C380,207.32 398.33,206.37 420,205.3 C441.67,204.23 468.33,203.02 490,202 C511.67,200.98 528.33,200.15 550,199.2 C571.67,198.25 595,197.21 620,196.3 C645,195.39 686.67,194.18 700,193.75" fill="none" stroke="#e81a24" stroke-width="2.0" />
<path d="M103.4,49.5 C104.43,54.08 107.48,67.58 109.6,77 C111.72,86.42 114.22,98.2 116.1,106 C117.98,113.8 119.45,118.55 120.9,123.8 C122.35,129.05 123.22,132.22 124.8,137.5 C126.38,142.78 128.58,150.33 130.4,155.5 C132.22,160.67 134.1,164.67 135.7,168.5 C137.3,172.33 138.52,175.22 140,178.5 C141.48,181.78 142.93,185.2 144.6,188.2 C146.27,191.2 148.2,193.82 150,196.5 C151.8,199.18 153.32,201.52 155.4,204.3 C157.48,207.08 159.83,210.67 162.5,213.2 C165.17,215.73 167.53,218.02 171.4,219.5 C175.27,220.98 180.93,221.52 185.7,222.1 C190.47,222.68 194.28,222.93 200,223 C205.72,223.07 210,223 220,222.5 C230,222 246.67,220.88 260,220 C273.33,219.12 283.33,218.24 300,217.2 C316.67,216.16 340,214.95 360,213.75 C380,212.55 398.33,211.25 420,210 C441.67,208.75 468.33,207.32 490,206.25 C511.67,205.18 528.33,204.43 550,203.6 C571.67,202.77 595,201.97 620,201.25 C645,200.53 686.67,199.58 700,199.25" fill="none" stroke="#edb120" stroke-width="2.0" />
</g>
<rect x="88.4" y="15.0" width="611.6" height="461.5" fill="none" stroke="#000" stroke-width="2.1"/>
<path d="M241.3,476.5v-6.5M241.3,15v6.5M394.2,476.5v-6.5M394.2,15v6.5M547.1,476.5v-6.5M547.1,15v6.5M88.4,384.2h6.5M700,384.2h-6.5M88.4,291.9h6.5M700,291.9h-6.5M88.4,199.6h6.5M700,199.6h-6.5M88.4,107.3h6.5M700,107.3h-6.5" stroke="#000" stroke-width="1.9" fill="none"/>
<text x="78.6" y="487.7" font-size="30.5" text-anchor="end">0</text>
<text x="78.6" y="395.4" font-size="30.5" text-anchor="end">0.2</text>
<text x="78.6" y="303.1" font-size="30.5" text-anchor="end">0.4</text>
<text x="78.6" y="210.8" font-size="30.5" text-anchor="end">0.6</text>
<text x="78.6" y="118.5" font-size="30.5" text-anchor="end">0.8</text>
<text x="78.6" y="26.2" font-size="30.5" text-anchor="end">1</text>
<text x="88.4" y="514.8" font-size="30.5" text-anchor="middle">0</text>
<text x="241.3" y="514.8" font-size="30.5" text-anchor="middle">1</text>
<text x="394.2" y="514.8" font-size="30.5" text-anchor="middle">2</text>
<text x="547.1" y="514.8" font-size="30.5" text-anchor="middle">3</text>
<text x="700" y="514.8" font-size="30.5" text-anchor="middle">4</text>
<g clip-path="url(#cb)">
<line x1="881.6" y1="245.6" x2="1492.6" y2="245.6" stroke="#333" stroke-width="1.3" stroke-dasharray="9.3 5.7"/>
<circle cx="901.9" cy="122.25" r="3.7" fill="none" stroke="#ee1520" stroke-width="1.9"/>
<polygon points="901.9,178.06 906.4,185.46 897.4,185.46" fill="none" stroke="#bb0000" stroke-width="1.9" stroke-linejoin="miter"/>
<polygon points="901.9,309.54 906.4,302.14 897.4,302.14" fill="none" stroke="#2f4fa6" stroke-width="1.9" stroke-linejoin="miter"/>
<polygon points="901.9,359 906,364.8 901.9,370.6 897.8,364.8" fill="none" stroke="#4d7ef3" stroke-width="1.9"/>
<circle cx="913.8" cy="119.4" r="3.7" fill="none" stroke="#ee1520" stroke-width="1.9"/>
<polygon points="913.8,179.2 918.3,186.6 909.3,186.6" fill="none" stroke="#bb0000" stroke-width="1.9" stroke-linejoin="miter"/>
<polygon points="913.8,312.68 918.3,305.28 909.3,305.28" fill="none" stroke="#2f4fa6" stroke-width="1.9" stroke-linejoin="miter"/>
<polygon points="913.8,358.57 917.9,364.37 913.8,370.17 909.7,364.37" fill="none" stroke="#4d7ef3" stroke-width="1.9"/>
<circle cx="922.1" cy="127.25" r="3.7" fill="none" stroke="#ee1520" stroke-width="1.9"/>
<polygon points="922.1,185.92 926.6,193.32 917.6,193.32" fill="none" stroke="#bb0000" stroke-width="1.9" stroke-linejoin="miter"/>
<polygon points="922.1,307.39 926.6,299.99 917.6,299.99" fill="none" stroke="#2f4fa6" stroke-width="1.9" stroke-linejoin="miter"/>
<polygon points="922.1,351.5 926.2,357.3 922.1,363.1 918,357.3" fill="none" stroke="#4d7ef3" stroke-width="1.9"/>
<circle cx="941" cy="124.1" r="3.7" fill="none" stroke="#ee1520" stroke-width="1.9"/>
<polygon points="941,182.21 945.5,189.61 936.5,189.61" fill="none" stroke="#bb0000" stroke-width="1.9" stroke-linejoin="miter"/>
<polygon points="941,306.68 945.5,299.28 936.5,299.28" fill="none" stroke="#2f4fa6" stroke-width="1.9" stroke-linejoin="miter"/>
<polygon points="941,351.5 945.1,357.3 941,363.1 936.9,357.3" fill="none" stroke="#4d7ef3" stroke-width="1.9"/>
<circle cx="943.7" cy="116.9" r="3.7" fill="none" stroke="#ee1520" stroke-width="1.9"/>
<polygon points="943.7,177.56 948.2,184.96 939.2,184.96" fill="none" stroke="#bb0000" stroke-width="1.9" stroke-linejoin="miter"/>
<polygon points="943.7,311.32 948.2,303.92 939.2,303.92" fill="none" stroke="#2f4fa6" stroke-width="1.9" stroke-linejoin="miter"/>
<polygon points="943.7,360.43 947.8,366.23 943.7,372.03 939.6,366.23" fill="none" stroke="#4d7ef3" stroke-width="1.9"/>
<circle cx="952.2" cy="126.9" r="3.7" fill="none" stroke="#ee1520" stroke-width="1.9"/>
<polygon points="952.2,184.92 956.7,192.32 947.7,192.32" fill="none" stroke="#bb0000" stroke-width="1.9" stroke-linejoin="miter"/>
<polygon points="952.2,304.89 956.7,297.49 947.7,297.49" fill="none" stroke="#2f4fa6" stroke-width="1.9" stroke-linejoin="miter"/>
<polygon points="952.2,341.13 956.3,346.93 952.2,352.73 948.1,346.93" fill="none" stroke="#4d7ef3" stroke-width="1.9"/>
<circle cx="955" cy="125" r="3.7" fill="none" stroke="#ee1520" stroke-width="1.9"/>
<polygon points="955,182.42 959.5,189.82 950.5,189.82" fill="none" stroke="#bb0000" stroke-width="1.9" stroke-linejoin="miter"/>
<polygon points="955,308.47 959.5,301.07 950.5,301.07" fill="none" stroke="#2f4fa6" stroke-width="1.9" stroke-linejoin="miter"/>
<polygon points="955,345.42 959.1,351.22 955,357.02 950.9,351.22" fill="none" stroke="#4d7ef3" stroke-width="1.9"/>
<circle cx="960" cy="117.75" r="3.7" fill="none" stroke="#ee1520" stroke-width="1.9"/>
<polygon points="960,180.28 964.5,187.68 955.5,187.68" fill="none" stroke="#bb0000" stroke-width="1.9" stroke-linejoin="miter"/>
<polygon points="960,308.47 964.5,301.07 955.5,301.07" fill="none" stroke="#2f4fa6" stroke-width="1.9" stroke-linejoin="miter"/>
<polygon points="960,349 964.1,354.8 960,360.6 955.9,354.8" fill="none" stroke="#4d7ef3" stroke-width="1.9"/>
<circle cx="980.7" cy="112.25" r="3.7" fill="none" stroke="#ee1520" stroke-width="1.9"/>
<polygon points="980.7,177.77 985.2,185.17 976.2,185.17" fill="none" stroke="#bb0000" stroke-width="1.9" stroke-linejoin="miter"/>
<polygon points="980.7,305.96 985.2,298.56 976.2,298.56" fill="none" stroke="#2f4fa6" stroke-width="1.9" stroke-linejoin="miter"/>
<polygon points="980.7,343.64 984.8,349.44 980.7,355.24 976.6,349.44" fill="none" stroke="#4d7ef3" stroke-width="1.9"/>
<circle cx="991.2" cy="96" r="3.7" fill="none" stroke="#ee1520" stroke-width="1.9"/>
<polygon points="991.2,169.91 995.7,177.31 986.7,177.31" fill="none" stroke="#bb0000" stroke-width="1.9" stroke-linejoin="miter"/>
<polygon points="991.2,312.75 995.7,305.35 986.7,305.35" fill="none" stroke="#2f4fa6" stroke-width="1.9" stroke-linejoin="miter"/>
<polygon points="991.2,351.14 995.3,356.94 991.2,362.74 987.1,356.94" fill="none" stroke="#4d7ef3" stroke-width="1.9"/>
<circle cx="997.7" cy="97.5" r="3.7" fill="none" stroke="#ee1520" stroke-width="1.9"/>
<polygon points="997.7,170.63 1002.2,178.03 993.2,178.03" fill="none" stroke="#bb0000" stroke-width="1.9" stroke-linejoin="miter"/>
<polygon points="997.7,313.83 1002.2,306.43 993.2,306.43" fill="none" stroke="#2f4fa6" stroke-width="1.9" stroke-linejoin="miter"/>
<polygon points="997.7,361.5 1001.8,367.3 997.7,373.1 993.6,367.3" fill="none" stroke="#4d7ef3" stroke-width="1.9"/>
<circle cx="1003.3" cy="91.25" r="3.7" fill="none" stroke="#ee1520" stroke-width="1.9"/>
<polygon points="1003.3,164.55 1007.8,171.95 998.8,171.95" fill="none" stroke="#bb0000" stroke-width="1.9" stroke-linejoin="miter"/>
<polygon points="1003.3,313.83 1007.8,306.43 998.8,306.43" fill="none" stroke="#2f4fa6" stroke-width="1.9" stroke-linejoin="miter"/>
<polygon points="1003.3,355.07 1007.4,360.87 1003.3,366.67 999.2,360.87" fill="none" stroke="#4d7ef3" stroke-width="1.9"/>
<circle cx="1017.2" cy="96.5" r="3.7" fill="none" stroke="#ee1520" stroke-width="1.9"/>
<polygon points="1017.2,167.41 1021.7,174.81 1012.7,174.81" fill="none" stroke="#bb0000" stroke-width="1.9" stroke-linejoin="miter"/>
<polygon points="1017.2,319.54 1021.7,312.14 1012.7,312.14" fill="none" stroke="#2f4fa6" stroke-width="1.9" stroke-linejoin="miter"/>
<polygon points="1017.2,360.08 1021.3,365.88 1017.2,371.68 1013.1,365.88" fill="none" stroke="#4d7ef3" stroke-width="1.9"/>
<circle cx="1045.2" cy="92.4" r="3.7" fill="none" stroke="#ee1520" stroke-width="1.9"/>
<polygon points="1045.2,165.98 1049.7,173.38 1040.7,173.38" fill="none" stroke="#bb0000" stroke-width="1.9" stroke-linejoin="miter"/>
<polygon points="1045.2,324.19 1049.7,316.79 1040.7,316.79" fill="none" stroke="#2f4fa6" stroke-width="1.9" stroke-linejoin="miter"/>
<polygon points="1045.2,372.58 1049.3,378.38 1045.2,384.18 1041.1,378.38" fill="none" stroke="#4d7ef3" stroke-width="1.9"/>
<circle cx="1053.95" cy="91.3" r="3.7" fill="none" stroke="#ee1520" stroke-width="1.9"/>
<polygon points="1053.95,166.34 1058.45,173.74 1049.45,173.74" fill="none" stroke="#bb0000" stroke-width="1.9" stroke-linejoin="miter"/>
<polygon points="1053.95,324.55 1058.45,317.15 1049.45,317.15" fill="none" stroke="#2f4fa6" stroke-width="1.9" stroke-linejoin="miter"/>
<polygon points="1053.95,375.37 1058.05,381.17 1053.95,386.97 1049.85,381.17" fill="none" stroke="#4d7ef3" stroke-width="1.9"/>
<circle cx="1058.2" cy="93.5" r="3.7" fill="none" stroke="#ee1520" stroke-width="1.9"/>
<polygon points="1058.2,167.05 1062.7,174.45 1053.7,174.45" fill="none" stroke="#bb0000" stroke-width="1.9" stroke-linejoin="miter"/>
<polygon points="1058.2,323.83 1062.7,316.43 1053.7,316.43" fill="none" stroke="#2f4fa6" stroke-width="1.9" stroke-linejoin="miter"/>
<polygon points="1058.2,378.44 1062.3,384.24 1058.2,390.04 1054.1,384.24" fill="none" stroke="#4d7ef3" stroke-width="1.9"/>
<circle cx="1073.7" cy="85.2" r="3.7" fill="none" stroke="#ee1520" stroke-width="1.9"/>
<polygon points="1073.7,163.48 1078.2,170.88 1069.2,170.88" fill="none" stroke="#bb0000" stroke-width="1.9" stroke-linejoin="miter"/>
<polygon points="1073.7,329.19 1078.2,321.79 1069.2,321.79" fill="none" stroke="#2f4fa6" stroke-width="1.9" stroke-linejoin="miter"/>
<polygon points="1073.7,386.38 1077.8,392.18 1073.7,397.98 1069.6,392.18" fill="none" stroke="#4d7ef3" stroke-width="1.9"/>
<circle cx="1086.2" cy="88.1" r="3.7" fill="none" stroke="#ee1520" stroke-width="1.9"/>
<polygon points="1086.2,163.48 1090.7,170.88 1081.7,170.88" fill="none" stroke="#bb0000" stroke-width="1.9" stroke-linejoin="miter"/>
<polygon points="1086.2,328.12 1090.7,320.72 1081.7,320.72" fill="none" stroke="#2f4fa6" stroke-width="1.9" stroke-linejoin="miter"/>
<polygon points="1086.2,386.23 1090.3,392.03 1086.2,397.83 1082.1,392.03" fill="none" stroke="#4d7ef3" stroke-width="1.9"/>
<circle cx="1089.95" cy="90.3" r="3.7" fill="none" stroke="#ee1520" stroke-width="1.9"/>
<polygon points="1089.95,163.48 1094.45,170.88 1085.45,170.88" fill="none" stroke="#bb0000" stroke-width="1.9" stroke-linejoin="miter"/>
<polygon points="1089.95,324.55 1094.45,317.15 1085.45,317.15" fill="none" stroke="#2f4fa6" stroke-width="1.9" stroke-linejoin="miter"/>
<polygon points="1089.95,384.95 1094.05,390.75 1089.95,396.55 1085.85,390.75" fill="none" stroke="#4d7ef3" stroke-width="1.9"/>
<circle cx="1115.7" cy="87.9" r="3.7" fill="none" stroke="#ee1520" stroke-width="1.9"/>
<polygon points="1115.7,163.48 1120.2,170.88 1111.2,170.88" fill="none" stroke="#bb0000" stroke-width="1.9" stroke-linejoin="miter"/>
<polygon points="1115.7,327.05 1120.2,319.65 1111.2,319.65" fill="none" stroke="#2f4fa6" stroke-width="1.9" stroke-linejoin="miter"/>
<polygon points="1115.7,386.88 1119.8,392.68 1115.7,398.48 1111.6,392.68" fill="none" stroke="#4d7ef3" stroke-width="1.9"/>
<circle cx="1129.95" cy="92.9" r="3.7" fill="none" stroke="#ee1520" stroke-width="1.9"/>
<polygon points="1129.95,165.98 1134.45,173.38 1125.45,173.38" fill="none" stroke="#bb0000" stroke-width="1.9" stroke-linejoin="miter"/>
<polygon points="1129.95,324.55 1134.45,317.15 1125.45,317.15" fill="none" stroke="#2f4fa6" stroke-width="1.9" stroke-linejoin="miter"/>
<polygon points="1129.95,383.3 1134.05,389.1 1129.95,394.9 1125.85,389.1" fill="none" stroke="#4d7ef3" stroke-width="1.9"/>
<circle cx="1164.95" cy="85.2" r="3.7" fill="none" stroke="#ee1520" stroke-width="1.9"/>
<polygon points="1164.95,162.34 1169.45,169.74 1160.45,169.74" fill="none" stroke="#bb0000" stroke-width="1.9" stroke-linejoin="miter"/>
<polygon points="1164.95,329.84 1169.45,322.44 1160.45,322.44" fill="none" stroke="#2f4fa6" stroke-width="1.9" stroke-linejoin="miter"/>
<polygon points="1164.95,390.74 1169.05,396.54 1164.95,402.34 1160.85,396.54" fill="none" stroke="#4d7ef3" stroke-width="1.9"/>
<circle cx="1176.95" cy="92.4" r="3.7" fill="none" stroke="#ee1520" stroke-width="1.9"/>
<polygon points="1176.95,165.27 1181.45,172.67 1172.45,172.67" fill="none" stroke="#bb0000" stroke-width="1.9" stroke-linejoin="miter"/>
<polygon points="1176.95,326.33 1181.45,318.93 1172.45,318.93" fill="none" stroke="#2f4fa6" stroke-width="1.9" stroke-linejoin="miter"/>
<polygon points="1176.95,382.95 1181.05,388.75 1176.95,394.55 1172.85,388.75" fill="none" stroke="#4d7ef3" stroke-width="1.9"/>
<circle cx="1192.7" cy="91.9" r="3.7" fill="none" stroke="#ee1520" stroke-width="1.9"/>
<polygon points="1192.7,165.62 1197.2,173.02 1188.2,173.02" fill="none" stroke="#bb0000" stroke-width="1.9" stroke-linejoin="miter"/>
<polygon points="1192.7,325.62 1197.2,318.22 1188.2,318.22" fill="none" stroke="#2f4fa6" stroke-width="1.9" stroke-linejoin="miter"/>
<polygon points="1192.7,385.09 1196.8,390.89 1192.7,396.69 1188.6,390.89" fill="none" stroke="#4d7ef3" stroke-width="1.9"/>
<circle cx="1216.95" cy="90.8" r="3.7" fill="none" stroke="#ee1520" stroke-width="1.9"/>
<polygon points="1216.95,163.48 1221.45,170.88 1212.45,170.88" fill="none" stroke="#bb0000" stroke-width="1.9" stroke-linejoin="miter"/>
<polygon points="1216.95,325.62 1221.45,318.22 1212.45,318.22" fill="none" stroke="#2f4fa6" stroke-width="1.9" stroke-linejoin="miter"/>
<polygon points="1216.95,386.52 1221.05,392.32 1216.95,398.12 1212.85,392.32" fill="none" stroke="#4d7ef3" stroke-width="1.9"/>
<circle cx="1246.45" cy="94.8" r="3.7" fill="none" stroke="#ee1520" stroke-width="1.9"/>
<polygon points="1246.45,164.55 1250.95,171.95 1241.95,171.95" fill="none" stroke="#bb0000" stroke-width="1.9" stroke-linejoin="miter"/>
<polygon points="1246.45,324.55 1250.95,317.15 1241.95,317.15" fill="none" stroke="#2f4fa6" stroke-width="1.9" stroke-linejoin="miter"/>
<polygon points="1246.45,384.02 1250.55,389.82 1246.45,395.62 1242.35,389.82" fill="none" stroke="#4d7ef3" stroke-width="1.9"/>
<circle cx="1279.45" cy="88.4" r="3.7" fill="none" stroke="#ee1520" stroke-width="1.9"/>
<polygon points="1279.45,163.91 1283.95,171.31 1274.95,171.31" fill="none" stroke="#bb0000" stroke-width="1.9" stroke-linejoin="miter"/>
<polygon points="1279.45,328.91 1283.95,321.51 1274.95,321.51" fill="none" stroke="#2f4fa6" stroke-width="1.9" stroke-linejoin="miter"/>
<polygon points="1279.45,388.38 1283.55,394.18 1279.45,399.98 1275.35,394.18" fill="none" stroke="#4d7ef3" stroke-width="1.9"/>
<circle cx="1290.7" cy="89.4" r="3.7" fill="none" stroke="#ee1520" stroke-width="1.9"/>
<polygon points="1290.7,164.27 1295.2,171.67 1286.2,171.67" fill="none" stroke="#bb0000" stroke-width="1.9" stroke-linejoin="miter"/>
<polygon points="1290.7,328.91 1295.2,321.51 1286.2,321.51" fill="none" stroke="#2f4fa6" stroke-width="1.9" stroke-linejoin="miter"/>
<polygon points="1290.7,389.09 1294.8,394.89 1290.7,400.69 1286.6,394.89" fill="none" stroke="#4d7ef3" stroke-width="1.9"/>
<circle cx="1343.2" cy="94.1" r="3.7" fill="none" stroke="#ee1520" stroke-width="1.9"/>
<polygon points="1343.2,164.91 1347.7,172.31 1338.7,172.31" fill="none" stroke="#bb0000" stroke-width="1.9" stroke-linejoin="miter"/>
<polygon points="1343.2,324.98 1347.7,317.58 1338.7,317.58" fill="none" stroke="#2f4fa6" stroke-width="1.9" stroke-linejoin="miter"/>
<polygon points="1343.2,384.09 1347.3,389.89 1343.2,395.69 1339.1,389.89" fill="none" stroke="#4d7ef3" stroke-width="1.9"/>
<circle cx="1375.7" cy="96.6" r="3.7" fill="none" stroke="#ee1520" stroke-width="1.9"/>
<polygon points="1375.7,164.19 1380.2,171.59 1371.2,171.59" fill="none" stroke="#bb0000" stroke-width="1.9" stroke-linejoin="miter"/>
<polygon points="1375.7,325.26 1380.2,317.86 1371.2,317.86" fill="none" stroke="#2f4fa6" stroke-width="1.9" stroke-linejoin="miter"/>
<polygon points="1375.7,382.66 1379.8,388.46 1375.7,394.26 1371.6,388.46" fill="none" stroke="#4d7ef3" stroke-width="1.9"/>
<circle cx="906.9" cy="122.5" r="3.7" fill="none" stroke="#edb120" stroke-width="1.9"/>
<polygon points="906.9,181.06 911.4,188.46 902.4,188.46" fill="none" stroke="#d39a1c" stroke-width="1.9" stroke-linejoin="miter"/>
<polygon points="906.9,308.47 911.4,301.07 902.4,301.07" fill="none" stroke="#62b43e" stroke-width="1.9" stroke-linejoin="miter"/>
<polygon points="906.9,359.72 911,365.52 906.9,371.32 902.8,365.52" fill="none" stroke="#5ee64a" stroke-width="1.9"/>
<circle cx="914.4" cy="130.6" r="3.7" fill="none" stroke="#edb120" stroke-width="1.9"/>
<polygon points="914.4,182.78 918.9,190.18 909.9,190.18" fill="none" stroke="#d39a1c" stroke-width="1.9" stroke-linejoin="miter"/>
<polygon points="914.4,308.82 918.9,301.42 909.9,301.42" fill="none" stroke="#62b43e" stroke-width="1.9" stroke-linejoin="miter"/>
<polygon points="914.4,352.21 918.5,358.01 914.4,363.81 910.3,358.01" fill="none" stroke="#5ee64a" stroke-width="1.9"/>
<circle cx="935.4" cy="130.6" r="3.7" fill="none" stroke="#edb120" stroke-width="1.9"/>
<polygon points="935.4,185.28 939.9,192.68 930.9,192.68" fill="none" stroke="#d39a1c" stroke-width="1.9" stroke-linejoin="miter"/>
<polygon points="935.4,304.89 939.9,297.49 930.9,297.49" fill="none" stroke="#62b43e" stroke-width="1.9" stroke-linejoin="miter"/>
<polygon points="935.4,347.21 939.5,353.01 935.4,358.81 931.3,353.01" fill="none" stroke="#5ee64a" stroke-width="1.9"/>
<circle cx="943.7" cy="132.75" r="3.7" fill="none" stroke="#edb120" stroke-width="1.9"/>
<polygon points="943.7,186.64 948.2,194.04 939.2,194.04" fill="none" stroke="#d39a1c" stroke-width="1.9" stroke-linejoin="miter"/>
<polygon points="943.7,303.82 948.2,296.42 939.2,296.42" fill="none" stroke="#62b43e" stroke-width="1.9" stroke-linejoin="miter"/>
<polygon points="943.7,347.92 947.8,353.72 943.7,359.52 939.6,353.72" fill="none" stroke="#5ee64a" stroke-width="1.9"/>
<circle cx="953" cy="129" r="3.7" fill="none" stroke="#edb120" stroke-width="1.9"/>
<polygon points="953,182.42 957.5,189.82 948.5,189.82" fill="none" stroke="#d39a1c" stroke-width="1.9" stroke-linejoin="miter"/>
<polygon points="953,304.89 957.5,297.49 948.5,297.49" fill="none" stroke="#62b43e" stroke-width="1.9" stroke-linejoin="miter"/>
<polygon points="953,349.71 957.1,355.51 953,361.31 948.9,355.51" fill="none" stroke="#5ee64a" stroke-width="1.9"/>
<circle cx="966.7" cy="126.5" r="3.7" fill="none" stroke="#edb120" stroke-width="1.9"/>
<polygon points="966.7,183.85 971.2,191.25 962.2,191.25" fill="none" stroke="#d39a1c" stroke-width="1.9" stroke-linejoin="miter"/>
<polygon points="966.7,302.03 971.2,294.63 962.2,294.63" fill="none" stroke="#62b43e" stroke-width="1.9" stroke-linejoin="miter"/>
<polygon points="966.7,339.49 970.8,345.29 966.7,351.09 962.6,345.29" fill="none" stroke="#5ee64a" stroke-width="1.9"/>
<circle cx="970.8" cy="126.5" r="3.7" fill="none" stroke="#edb120" stroke-width="1.9"/>
<polygon points="970.8,184.21 975.3,191.61 966.3,191.61" fill="none" stroke="#d39a1c" stroke-width="1.9" stroke-linejoin="miter"/>
<polygon points="970.8,304.89 975.3,297.49 966.3,297.49" fill="none" stroke="#62b43e" stroke-width="1.9" stroke-linejoin="miter"/>
<polygon points="970.8,344.78 974.9,350.58 970.8,356.38 966.7,350.58" fill="none" stroke="#5ee64a" stroke-width="1.9"/>
<circle cx="995.7" cy="102.75" r="3.7" fill="none" stroke="#edb120" stroke-width="1.9"/>
<polygon points="995.7,170.63 1000.2,178.03 991.2,178.03" fill="none" stroke="#d39a1c" stroke-width="1.9" stroke-linejoin="miter"/>
<polygon points="995.7,307.39 1000.2,299.99 991.2,299.99" fill="none" stroke="#62b43e" stroke-width="1.9" stroke-linejoin="miter"/>
<polygon points="995.7,347.35 999.8,353.15 995.7,358.95 991.6,353.15" fill="none" stroke="#5ee64a" stroke-width="1.9"/>
<circle cx="1001.2" cy="102.75" r="3.7" fill="none" stroke="#edb120" stroke-width="1.9"/>
<polygon points="1001.2,170.63 1005.7,178.03 996.7,178.03" fill="none" stroke="#d39a1c" stroke-width="1.9" stroke-linejoin="miter"/>
<polygon points="1001.2,313.11 1005.7,305.71 996.7,305.71" fill="none" stroke="#62b43e" stroke-width="1.9" stroke-linejoin="miter"/>
<polygon points="1001.2,361.22 1005.3,367.02 1001.2,372.82 997.1,367.02" fill="none" stroke="#5ee64a" stroke-width="1.9"/>
<circle cx="1070.7" cy="94.3" r="3.7" fill="none" stroke="#edb120" stroke-width="1.9"/>
<polygon points="1070.7,165.98 1075.2,173.38 1066.2,173.38" fill="none" stroke="#d39a1c" stroke-width="1.9" stroke-linejoin="miter"/>
<polygon points="1070.7,326.33 1075.2,318.93 1066.2,318.93" fill="none" stroke="#62b43e" stroke-width="1.9" stroke-linejoin="miter"/>
<polygon points="1070.7,383.8 1074.8,389.6 1070.7,395.4 1066.6,389.6" fill="none" stroke="#5ee64a" stroke-width="1.9"/>
<circle cx="1107.7" cy="96" r="3.7" fill="none" stroke="#edb120" stroke-width="1.9"/>
<polygon points="1107.7,165.27 1112.2,172.67 1103.2,172.67" fill="none" stroke="#d39a1c" stroke-width="1.9" stroke-linejoin="miter"/>
<polygon points="1107.7,326.33 1112.2,318.93 1103.2,318.93" fill="none" stroke="#62b43e" stroke-width="1.9" stroke-linejoin="miter"/>
<polygon points="1107.7,382.52 1111.8,388.32 1107.7,394.12 1103.6,388.32" fill="none" stroke="#5ee64a" stroke-width="1.9"/>
<circle cx="1161.2" cy="92.9" r="3.7" fill="none" stroke="#edb120" stroke-width="1.9"/>
<polygon points="1161.2,165.27 1165.7,172.67 1156.7,172.67" fill="none" stroke="#d39a1c" stroke-width="1.9" stroke-linejoin="miter"/>
<polygon points="1161.2,324.55 1165.7,317.15 1156.7,317.15" fill="none" stroke="#62b43e" stroke-width="1.9" stroke-linejoin="miter"/>
<polygon points="1161.2,383.66 1165.3,389.46 1161.2,395.26 1157.1,389.46" fill="none" stroke="#5ee64a" stroke-width="1.9"/>
<circle cx="1258.2" cy="95.8" r="3.7" fill="none" stroke="#edb120" stroke-width="1.9"/>
<polygon points="1258.2,165.27 1262.7,172.67 1253.7,172.67" fill="none" stroke="#d39a1c" stroke-width="1.9" stroke-linejoin="miter"/>
<polygon points="1258.2,324.55 1262.7,317.15 1253.7,317.15" fill="none" stroke="#62b43e" stroke-width="1.9" stroke-linejoin="miter"/>
<polygon points="1258.2,382.95 1262.3,388.75 1258.2,394.55 1254.1,388.75" fill="none" stroke="#5ee64a" stroke-width="1.9"/>
<circle cx="1327.45" cy="100.1" r="3.7" fill="none" stroke="#edb120" stroke-width="1.9"/>
<polygon points="1327.45,168.12 1331.95,175.52 1322.95,175.52" fill="none" stroke="#d39a1c" stroke-width="1.9" stroke-linejoin="miter"/>
<polygon points="1327.45,323.12 1331.95,315.72 1322.95,315.72" fill="none" stroke="#62b43e" stroke-width="1.9" stroke-linejoin="miter"/>
<polygon points="1327.45,380.45 1331.55,386.25 1327.45,392.05 1323.35,386.25" fill="none" stroke="#5ee64a" stroke-width="1.9"/>
<circle cx="1397.7" cy="97.9" r="3.7" fill="none" stroke="#edb120" stroke-width="1.9"/>
<polygon points="1397.7,167.48 1402.2,174.88 1393.2,174.88" fill="none" stroke="#d39a1c" stroke-width="1.9" stroke-linejoin="miter"/>
<polygon points="1397.7,322.97 1402.2,315.57 1393.2,315.57" fill="none" stroke="#62b43e" stroke-width="1.9" stroke-linejoin="miter"/>
<polygon points="1397.7,381.66 1401.8,387.46 1397.7,393.26 1393.6,387.46" fill="none" stroke="#5ee64a" stroke-width="1.9"/>
<path d="M896.7,320.4 C897.87,319.9 901.38,318.4 903.7,317.4 C906.02,316.4 908.38,315.27 910.6,314.4 C912.82,313.53 914.5,312.93 917,312.2 C919.5,311.47 923.1,310.6 925.6,310 C928.1,309.4 929.33,309.13 932,308.6 C934.67,308.07 938.6,307.3 941.6,306.8 C944.6,306.3 946.98,305.87 950,305.6 C953.02,305.33 956.87,305.17 959.7,305.2 C962.53,305.23 964.45,305.45 967,305.8 C969.55,306.15 971.95,306.6 975,307.3 C978.05,308 982.13,308.98 985.3,310 C988.47,311.02 991.15,312.28 994,313.4 C996.85,314.52 999.4,315.67 1002.4,316.7 C1005.4,317.73 1008.73,318.8 1012,319.6 C1015.27,320.4 1018.17,321.03 1022,321.5 C1025.83,321.97 1028.67,322.22 1035,322.4 C1041.33,322.58 1039.17,322.6 1060,322.6 C1080.83,322.6 1126.67,322.55 1160,322.4 C1193.33,322.25 1223.33,322.05 1260,321.7 C1296.67,321.35 1341.5,320.79 1380,320.3 C1418.5,319.81 1472.5,319.01 1491,318.75" fill="none" stroke="#2f4fa6" stroke-width="2.0" stroke-dasharray="7.6 7.4" stroke-dashoffset="-2.5"/>
<path d="M896.7,320.4 C897.87,319.87 901.38,318.27 903.7,317.2 C906.02,316.13 908.38,314.88 910.6,314 C912.82,313.12 914.5,312.62 917,311.9 C919.5,311.18 923.1,310.33 925.6,309.7 C928.1,309.07 929.33,308.72 932,308.1 C934.67,307.48 938.6,306.62 941.6,306 C944.6,305.38 946.98,304.8 950,304.4 C953.02,304 956.87,303.67 959.7,303.6 C962.53,303.53 964.45,303.72 967,304 C969.55,304.28 971.95,304.68 975,305.3 C978.05,305.92 982.13,306.67 985.3,307.7 C988.47,308.73 991.15,310.28 994,311.5 C996.85,312.72 999.4,313.87 1002.4,315 C1005.4,316.13 1008.73,317.37 1012,318.3 C1015.27,319.23 1018.17,320 1022,320.6 C1025.83,321.2 1028.67,321.62 1035,321.9 C1041.33,322.18 1039.17,322.25 1060,322.3 C1080.83,322.35 1126.67,322.33 1160,322.2 C1193.33,322.07 1223.33,321.83 1260,321.5 C1296.67,321.17 1341.5,320.66 1380,320.2 C1418.5,319.74 1472.5,318.99 1491,318.75" fill="none" stroke="#62b43e" stroke-width="2.0" stroke-dasharray="7.6 7.4"/>
<path d="M896.4,392.9 C897.83,391.45 902.13,386.77 905,384.2 C907.87,381.63 910.43,379.7 913.6,377.5 C916.77,375.3 920.43,372.97 924,371 C927.57,369.03 931.67,367.1 935,365.7 C938.33,364.3 940.9,363.43 944,362.6 C947.1,361.77 950.6,361.17 953.6,360.7 C956.6,360.23 959.15,359.95 962,359.8 C964.85,359.65 968.03,359.6 970.7,359.8 C973.37,360 975.62,360.48 978,361 C980.38,361.52 982.17,361.93 985,362.9 C987.83,363.87 991.43,365.13 995,366.8 C998.57,368.47 1002.73,370.9 1006.4,372.9 C1010.07,374.9 1013.42,377.02 1017,378.8 C1020.58,380.58 1024.07,382.18 1027.9,383.6 C1031.73,385.02 1035.25,386.18 1040,387.3 C1044.75,388.42 1051.4,389.55 1056.4,390.3 C1061.4,391.05 1065.23,391.42 1070,391.8 C1074.77,392.18 1076.67,392.47 1085,392.6 C1093.33,392.73 1090.83,393.1 1120,392.6 C1149.17,392.1 1216.67,390.38 1260,389.6 C1303.33,388.82 1341.5,388.46 1380,387.9 C1418.5,387.34 1472.5,386.52 1491,386.25" fill="none" stroke="#4d7ef3" stroke-width="2.0" />
<path d="M896.4,392.9 C897.83,391.42 902.13,386.63 905,384 C907.87,381.37 910.43,379.33 913.6,377.1 C916.77,374.87 920.43,372.62 924,370.6 C927.57,368.58 931.33,366.6 935,365 C938.67,363.4 942.43,362.15 946,361 C949.57,359.85 953.07,358.83 956.4,358.1 C959.73,357.37 962.67,356.88 966,356.6 C969.33,356.32 973.4,356.33 976.4,356.4 C979.4,356.47 981.38,356.6 984,357 C986.62,357.4 989.6,357.93 992.1,358.8 C994.6,359.67 996.62,360.82 999,362.2 C1001.38,363.58 1003.4,365.22 1006.4,367.1 C1009.4,368.98 1013.42,371.47 1017,373.5 C1020.58,375.53 1024.9,377.78 1027.9,379.3 C1030.9,380.82 1031.65,381.35 1035,382.6 C1038.35,383.85 1043.23,385.57 1048,386.8 C1052.77,388.03 1057.43,389.15 1063.6,390 C1069.77,390.85 1075.6,391.57 1085,391.9 C1094.4,392.23 1090.83,392.4 1120,392 C1149.17,391.6 1216.67,390.2 1260,389.5 C1303.33,388.8 1341.5,388.34 1380,387.8 C1418.5,387.26 1472.5,386.51 1491,386.25" fill="none" stroke="#5ee64a" stroke-width="2.0" />
<path d="M896.3,169.7 C897.53,170.23 901.42,171.95 903.7,172.9 C905.98,173.85 907.78,174.6 910,175.4 C912.22,176.2 914.67,177.02 917,177.7 C919.33,178.38 921.67,179 924,179.5 C926.33,180 928.67,180.38 931,180.7 C933.33,181.02 935.67,181.25 938,181.4 C940.33,181.55 942.67,181.6 945,181.6 C947.33,181.6 949.83,181.58 952,181.4 C954.17,181.22 955.83,180.92 958,180.5 C960.17,180.08 962.67,179.55 965,178.9 C967.33,178.25 969.67,177.43 972,176.6 C974.33,175.77 976.83,174.73 979,173.9 C981.17,173.07 982.83,172.42 985,171.6 C987.17,170.78 989.5,169.82 992,169 C994.5,168.18 997.33,167.32 1000,166.7 C1002.67,166.08 1005.17,165.63 1008,165.3 C1010.83,164.97 1013.33,164.83 1017,164.7 C1020.67,164.57 1022.83,164.52 1030,164.5 C1037.17,164.48 1038.33,164.52 1060,164.6 C1081.67,164.68 1126.67,164.82 1160,165 C1193.33,165.18 1223.33,165.4 1260,165.7 C1296.67,166 1341.5,166.45 1380,166.8 C1418.5,167.15 1472.5,167.63 1491,167.8" fill="none" stroke="#bb0000" stroke-width="2.0" stroke-dasharray="7.6 7.4" stroke-dashoffset="-2.5"/>
<path d="M896.3,169.7 C897.53,170.23 901.42,171.95 903.7,172.9 C905.98,173.85 907.78,174.6 910,175.4 C912.22,176.2 914.67,177.02 917,177.7 C919.33,178.38 921.67,179 924,179.5 C926.33,180 928.67,180.38 931,180.7 C933.33,181.02 935.67,181.25 938,181.4 C940.33,181.55 942.67,181.6 945,181.6 C947.33,181.6 949.83,181.58 952,181.4 C954.17,181.22 955.83,180.92 958,180.5 C960.17,180.08 962.67,179.55 965,178.9 C967.33,178.25 969.67,177.43 972,176.6 C974.33,175.77 976.83,174.73 979,173.9 C981.17,173.07 982.83,172.42 985,171.6 C987.17,170.78 989.5,169.82 992,169 C994.5,168.18 997.33,167.32 1000,166.7 C1002.67,166.08 1005.17,165.63 1008,165.3 C1010.83,164.97 1013.33,164.83 1017,164.7 C1020.67,164.57 1022.83,164.52 1030,164.5 C1037.17,164.48 1038.33,164.52 1060,164.6 C1081.67,164.68 1126.67,164.82 1160,165 C1193.33,165.18 1223.33,165.4 1260,165.7 C1296.67,166 1341.5,166.45 1380,166.8 C1418.5,167.15 1472.5,167.63 1491,167.8" fill="none" stroke="#d39a1c" stroke-width="2.0" stroke-dasharray="7.6 7.4"/>
<path d="M896.9,93.75 C897.92,94.56 900.82,97.07 903,98.6 C905.18,100.12 907.83,101.67 910,102.9 C912.17,104.13 913.92,105 916,106 C918.08,107 920.5,108.08 922.5,108.9 C924.5,109.72 925.92,110.28 928,110.9 C930.08,111.52 932.38,112.18 935,112.6 C937.62,113.02 940.83,113.45 943.75,113.4 C946.67,113.35 949.79,113.15 952.5,112.3 C955.21,111.45 957.92,109.65 960,108.3 C962.08,106.95 963.33,105.68 965,104.2 C966.67,102.72 968.33,101 970,99.4 C971.67,97.8 973.33,96.08 975,94.6 C976.67,93.12 978.33,91.67 980,90.5 C981.67,89.33 983.33,88.43 985,87.6 C986.67,86.77 987.5,86.28 990,85.5 C992.5,84.72 996.67,83.5 1000,82.9 C1003.33,82.3 1005.83,82.13 1010,81.9 C1014.17,81.67 1016.67,81.5 1025,81.5 C1033.33,81.5 1040.83,81.65 1060,81.9 C1079.17,82.15 1106.67,82.58 1140,83 C1173.33,83.42 1220,83.95 1260,84.4 C1300,84.85 1341.43,85.3 1380,85.7 C1418.57,86.1 1472.83,86.62 1491.4,86.8" fill="none" stroke="#e81a24" stroke-width="2.0" />
<path d="M896.9,93.75 C897.92,94.59 900.82,97.22 903,98.8 C905.18,100.38 907.83,101.93 910,103.2 C912.17,104.47 913.92,105.37 916,106.4 C918.08,107.43 920.5,108.55 922.5,109.4 C924.5,110.25 925.92,110.82 928,111.5 C930.08,112.18 932.83,112.97 935,113.5 C937.17,114.03 938.92,114.38 941,114.7 C943.08,115.02 945.5,115.3 947.5,115.4 C949.5,115.5 951.33,115.5 953,115.3 C954.67,115.1 956.17,114.78 957.5,114.2 C958.83,113.62 959.75,112.83 961,111.8 C962.25,110.77 963.5,109.55 965,108 C966.5,106.45 968.33,104.28 970,102.5 C971.67,100.72 973.33,98.92 975,97.3 C976.67,95.68 978.33,94.18 980,92.8 C981.67,91.42 983.33,90.07 985,89 C986.67,87.93 988.33,87.13 990,86.4 C991.67,85.67 992.5,85.27 995,84.6 C997.5,83.93 1001.67,82.95 1005,82.4 C1008.33,81.85 1011.67,81.58 1015,81.3 C1018.33,81.02 1017.5,80.77 1025,80.7 C1032.5,80.63 1040.83,80.72 1060,80.9 C1079.17,81.08 1106.67,81.43 1140,81.8 C1173.33,82.17 1220,82.63 1260,83.1 C1300,83.57 1341.43,84.13 1380,84.6 C1418.57,85.07 1472.83,85.68 1491.4,85.9" fill="none" stroke="#edb120" stroke-width="2.0" />
<circle cx="1016.8" cy="82" r="7.2" fill="#ee1520"/>
<circle cx="1016" cy="81.2" r="7.2" fill="#edb120"/>
<polygon points="1016.2,155.4 1025.1,170.6 1007.3,170.6" fill="#bb0000"/>
<polygon points="1015.8,154.8 1024.7,170.3 1006.9,170.3" fill="#d39a1c"/>
<polygon points="1037,316.2 1054,316.2 1045.3,333.2" fill="#2f4fa6"/>
<polygon points="1024.8,317.3 1043.4,317.3 1034.1,333.2" fill="#62b43e"/>
<polygon points="1073.9,381.8 1081.9,391.6 1073.9,401.4 1065.9,391.6" fill="#4d7ef3"/>
<polygon points="1071,381.4 1079.3,391.6 1071,401.8 1062.7,391.6" fill="#5ee64a"/>
</g>
<rect x="881.6" y="15.2" width="610.9999999999999" height="461.40000000000003" fill="none" stroke="#000" stroke-width="2.1"/>
<path d="M1034.35,476.6v-6.5M1034.35,15.2v6.5M1187.1,476.6v-6.5M1187.1,15.2v6.5M1339.85,476.6v-6.5M1339.85,15.2v6.5M881.6,443.71h6.5M1492.6,443.71h-6.5M881.6,377.74h6.5M1492.6,377.74h-6.5M881.6,311.77h6.5M1492.6,311.77h-6.5M881.6,245.8h6.5M1492.6,245.8h-6.5M881.6,179.83h6.5M1492.6,179.83h-6.5M881.6,113.86h6.5M1492.6,113.86h-6.5M881.6,47.89h6.5M1492.6,47.89h-6.5" stroke="#000" stroke-width="1.9" fill="none"/>
<text x="870.5" y="455.11" font-size="30.5" text-anchor="end">-0.3</text>
<text x="870.5" y="389.14" font-size="30.5" text-anchor="end">-0.2</text>
<text x="870.5" y="323.17" font-size="30.5" text-anchor="end">-0.1</text>
<text x="870.5" y="257.2" font-size="30.5" text-anchor="end">0</text>
<text x="870.5" y="191.23" font-size="30.5" text-anchor="end">0.1</text>
<text x="870.5" y="125.26" font-size="30.5" text-anchor="end">0.2</text>
<text x="870.5" y="59.29" font-size="30.5" text-anchor="end">0.3</text>
<text x="881.6" y="514.8" font-size="30.5" text-anchor="middle">0</text>
<text x="1034.35" y="514.8" font-size="30.5" text-anchor="middle">1</text>
<text x="1187.1" y="514.8" font-size="30.5" text-anchor="middle">2</text>
<text x="1339.85" y="514.8" font-size="30.5" text-anchor="middle">3</text>
<text x="1492.6" y="514.8" font-size="30.5" text-anchor="middle">4</text>
<text x="1353.9" y="73.3" font-size="23.5">Λ</text><text x="1370.1" y="77.3" font-size="16.5">m</text><path d="M1391.3,65.3h15.6M1391.3,69.4h15.6" stroke="#000" stroke-width="1.5"/><text x="1414.5" y="73.3" font-size="23.5" textLength="39.4" lengthAdjust="spacingAndGlyphs">0.18</text>
<text x="1353.9" y="153.2" font-size="23.5">Λ</text><text x="1370.1" y="157.2" font-size="16.5">m</text><path d="M1391.3,145.2h15.6M1391.3,149.3h15.6" stroke="#000" stroke-width="1.5"/><text x="1414.5" y="153.2" font-size="23.5" textLength="39.4" lengthAdjust="spacingAndGlyphs">0.09</text>
<text x="1353.9" y="350.8" font-size="23.5">Λ</text><text x="1370.1" y="354.8" font-size="16.5">m</text><path d="M1391.3,342.8h15.6M1391.3,346.9h15.6" stroke="#000" stroke-width="1.5"/><path d="M1415.9,345.05h13.9" stroke="#000" stroke-width="1.5"/><text x="1432.1" y="350.8" font-size="23.5" textLength="39.5" lengthAdjust="spacingAndGlyphs">0.09</text>
<text x="1353.9" y="422.2" font-size="23.5">Λ</text><text x="1370.1" y="426.2" font-size="16.5">m</text><path d="M1391.3,414.2h15.6M1391.3,418.3h15.6" stroke="#000" stroke-width="1.5"/><path d="M1415.9,416.45h13.9" stroke="#000" stroke-width="1.5"/><text x="1432.1" y="422.2" font-size="23.5" textLength="39.5" lengthAdjust="spacingAndGlyphs">0.18</text>
<text x="252.7" y="49" font-size="20">Λ<tspan font-size="14" dy="4">m</tspan></text>
<text x="336.6" y="49" font-size="18" text-anchor="middle">0.18</text>
<text x="397.2" y="49" font-size="18" text-anchor="middle">0.09</text>
<text x="457.7" y="49" font-size="18" text-anchor="middle">0</text>
<text x="518" y="49" font-size="18" text-anchor="middle">-0.09</text>
<text x="577.5" y="49" font-size="18" text-anchor="middle">-0.18</text>
<circle cx="337.4" cy="67" r="3.7" fill="none" stroke="#ee1520" stroke-width="1.9"/>
<circle cx="337.4" cy="125.2" r="3.7" fill="none" stroke="#edb120" stroke-width="1.9"/>
<polygon points="397.5,63.3 402,70.7 393,70.7" fill="none" stroke="#bb0000" stroke-width="1.9" stroke-linejoin="miter"/>
<polygon points="397.5,121.5 402,128.9 393,128.9" fill="none" stroke="#d39a1c" stroke-width="1.9" stroke-linejoin="miter"/>
<rect x="454.05" y="63.35" width="7.3" height="7.3" fill="none" stroke="#000000" stroke-width="1.9"/>
<rect x="454.05" y="121.55" width="7.3" height="7.3" fill="none" stroke="#8a8a8a" stroke-width="1.9"/>
<polygon points="518,70.7 522.5,63.3 513.5,63.3" fill="none" stroke="#2f4fa6" stroke-width="1.9" stroke-linejoin="miter"/>
<polygon points="518,128.9 522.5,121.5 513.5,121.5" fill="none" stroke="#62b43e" stroke-width="1.9" stroke-linejoin="miter"/>
<polygon points="577.9,61.2 582,67 577.9,72.8 573.8,67" fill="none" stroke="#4d7ef3" stroke-width="1.9"/>
<polygon points="577.9,119.4 582,125.2 577.9,131 573.8,125.2" fill="none" stroke="#5ee64a" stroke-width="1.9"/>
<text x="233.8" y="87.8" font-size="18.7">MRE-22</text>
<text x="233.8" y="145.4" font-size="18.7">MRE-32</text>
<text x="617.2" y="74" font-size="18">Exp.</text>
<text x="617.2" y="131" font-size="18">Exp.</text>
<text x="617.2" y="102.5" font-size="18">Theory</text>
<text x="617.2" y="159" font-size="18">Theory</text>
<line x1="309" y1="82.6" x2="675.5" y2="82.6" stroke="#000" stroke-width="1.4" stroke-dasharray="8.4 7.6" stroke-dashoffset="4.1"/>
<line x1="309" y1="138.5" x2="675.5" y2="138.5" stroke="#000" stroke-width="1.4" stroke-dasharray="8.4 7.6" stroke-dashoffset="4.1"/>
<line x1="231" y1="110.5" x2="675.5" y2="110.5" stroke="#444" stroke-width="1.5"/>
<line x1="312.7" y1="97.4" x2="361.7" y2="97.4" stroke="#e81a24" stroke-width="2" />
<line x1="372.7" y1="97.4" x2="422.2" y2="97.4" stroke="#bb0000" stroke-width="2" stroke-dasharray="7.6 7.4"/>
<line x1="432.8" y1="97.4" x2="482.1" y2="97.4" stroke="#000000" stroke-width="2" stroke-dasharray="2 1.7"/>
<line x1="493.1" y1="97.4" x2="542.4" y2="97.4" stroke="#2f4fa6" stroke-width="2" stroke-dasharray="7.6 7.4"/>
<line x1="553.1" y1="97.4" x2="602.5" y2="97.4" stroke="#4d7ef3" stroke-width="2" />
<line x1="312.7" y1="154.8" x2="361.7" y2="154.8" stroke="#edb120" stroke-width="2" />
<line x1="372.7" y1="154.8" x2="422.2" y2="154.8" stroke="#d39a1c" stroke-width="2" stroke-dasharray="7.6 7.4"/>
<line x1="432.8" y1="154.8" x2="482.1" y2="154.8" stroke="#8a8a8a" stroke-width="2" stroke-dasharray="2 1.7"/>
<line x1="493.1" y1="154.8" x2="542.4" y2="154.8" stroke="#62b43e" stroke-width="2" stroke-dasharray="7.6 7.4"/>
<line x1="553.1" y1="154.8" x2="602.5" y2="154.8" stroke="#5ee64a" stroke-width="2" />
<text x="1.3" y="22.6" font-size="43" font-weight="bold" textLength="19.5" lengthAdjust="spacingAndGlyphs">a</text>
<text x="749.5" y="30" font-size="41" font-weight="bold">b</text>
<text x="165.7" y="553.4" font-size="33" textLength="164.1" lengthAdjust="spacingAndGlyphs">Normalized</text>
<text x="341.1" y="553.4" font-size="33" textLength="85.4" lengthAdjust="spacingAndGlyphs">defect</text>
<text x="438.2" y="553.4" font-size="33" textLength="155.4" lengthAdjust="spacingAndGlyphs">amplitude,</text>
<text x="604.2" y="553.4" font-size="33" font-style="italic">δ</text>
<line x1="604" y1="525.9" x2="620" y2="525.9" stroke="#000" stroke-width="1.9"/>
<text x="959" y="553.4" font-size="33" textLength="164.1" lengthAdjust="spacingAndGlyphs">Normalized</text>
<text x="1134.4" y="553.4" font-size="33" textLength="85.4" lengthAdjust="spacingAndGlyphs">defect</text>
<text x="1231.5" y="553.4" font-size="33" textLength="155.4" lengthAdjust="spacingAndGlyphs">amplitude,</text>
<text x="1397.5" y="553.4" font-size="33" font-style="italic">δ</text>
<line x1="1397.3" y1="525.9" x2="1413.3" y2="525.9" stroke="#000" stroke-width="1.9"/>
<g transform="translate(23.8,404.2) rotate(-90)"><text x="-2.2" y="0" font-size="33" textLength="171.2" lengthAdjust="spacingAndGlyphs">Knockdown</text><text x="178" y="0" font-size="33" textLength="93.2" lengthAdjust="spacingAndGlyphs">factor,</text><text x="283.6" y="0" font-size="34.5" font-style="italic">κ</text></g>
<g transform="translate(23.8,404.2) rotate(-90)"><text x="302.4" y="5.3" font-size="25">d</text></g>
<g transform="translate(806.8,490.2) rotate(-90)"><text x="-2.2" y="0" font-size="33" textLength="110.6" lengthAdjust="spacingAndGlyphs">Change</text><text x="115.4" y="0" font-size="33" textLength="30.2" lengthAdjust="spacingAndGlyphs">of</text><text x="153.2" y="0" font-size="33" textLength="162.4" lengthAdjust="spacingAndGlyphs">knockdown</text><text x="325.2" y="0" font-size="33" textLength="93.8" lengthAdjust="spacingAndGlyphs">factor,</text><text x="430.4" y="0" font-size="33" textLength="27.6" lengthAdjust="spacingAndGlyphs">Δ</text><text x="458.2" y="0" font-size="34.5" font-style="italic">κ</text></g>
<g transform="translate(806.8,490.2) rotate(-90)"><text x="475.6" y="5.3" font-size="25">d</text></g>
</svg></body></html>
